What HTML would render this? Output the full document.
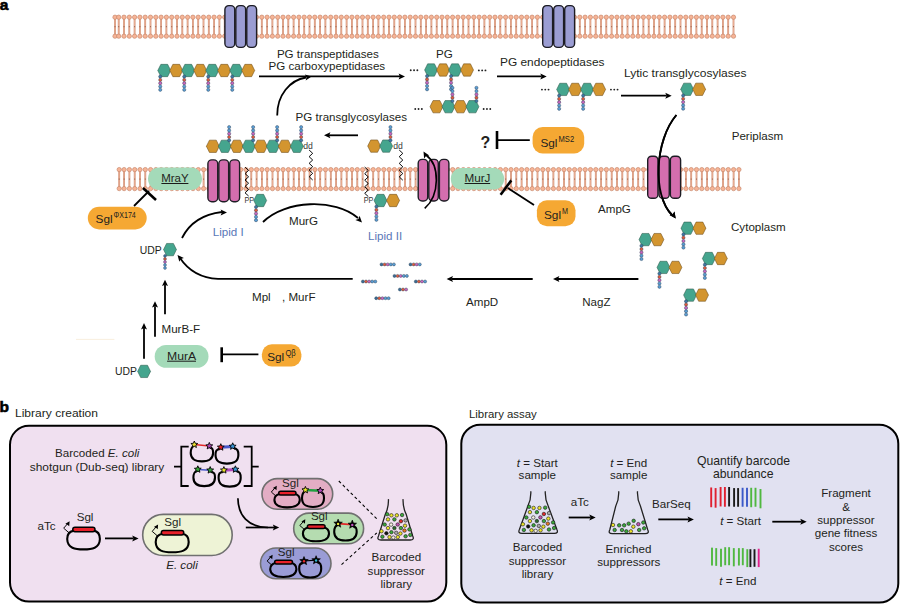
<!DOCTYPE html>
<html><head><meta charset="utf-8"><style>
html,body{margin:0;padding:0;background:#fff;overflow:hidden;}
svg{display:block;font-family:"Liberation Sans",sans-serif;}
</style></head><body>
<svg width="900" height="611" viewBox="0 0 900 611">
<text x="-0.2" y="9.7" font-size="15.50" text-anchor="start" fill="#000" font-weight="bold" stroke="#000" stroke-width="0.6">a</text>
<path d="M115.00 17.20V36.20M118.70 17.20V36.20M124.00 17.20V36.20M129.30 17.20V36.20M134.60 17.20V36.20M139.90 17.20V36.20M145.20 17.20V36.20M150.50 17.20V36.20M155.80 17.20V36.20M161.10 17.20V36.20M166.40 17.20V36.20M171.70 17.20V36.20M177.00 17.20V36.20M182.30 17.20V36.20M187.60 17.20V36.20M192.90 17.20V36.20M198.20 17.20V36.20M203.50 17.20V36.20M208.80 17.20V36.20M214.10 17.20V36.20M219.40 17.20V36.20M224.70 17.20V36.20M230.00 17.20V36.20M235.30 17.20V36.20M240.60 17.20V36.20M245.90 17.20V36.20M251.20 17.20V36.20M256.50 17.20V36.20M261.80 17.20V36.20M267.10 17.20V36.20M272.40 17.20V36.20M277.70 17.20V36.20M283.00 17.20V36.20M288.30 17.20V36.20M293.60 17.20V36.20M298.90 17.20V36.20M304.20 17.20V36.20M309.50 17.20V36.20M314.80 17.20V36.20M320.10 17.20V36.20M325.40 17.20V36.20M330.70 17.20V36.20M336.00 17.20V36.20M341.30 17.20V36.20M346.60 17.20V36.20M351.90 17.20V36.20M357.20 17.20V36.20M362.50 17.20V36.20M367.80 17.20V36.20M373.10 17.20V36.20M378.40 17.20V36.20M383.70 17.20V36.20M389.00 17.20V36.20M394.30 17.20V36.20M399.60 17.20V36.20M404.90 17.20V36.20M410.20 17.20V36.20M415.50 17.20V36.20M420.80 17.20V36.20M426.10 17.20V36.20M431.40 17.20V36.20M436.70 17.20V36.20M442.00 17.20V36.20M447.30 17.20V36.20M452.60 17.20V36.20M457.90 17.20V36.20M463.20 17.20V36.20M468.50 17.20V36.20M473.80 17.20V36.20M479.10 17.20V36.20M484.40 17.20V36.20M489.70 17.20V36.20M495.00 17.20V36.20M500.30 17.20V36.20M505.60 17.20V36.20M510.90 17.20V36.20M516.20 17.20V36.20M521.50 17.20V36.20M526.80 17.20V36.20M532.10 17.20V36.20M537.40 17.20V36.20M542.70 17.20V36.20M548.00 17.20V36.20M553.30 17.20V36.20M558.60 17.20V36.20M563.90 17.20V36.20M569.20 17.20V36.20M574.50 17.20V36.20M579.80 17.20V36.20M585.10 17.20V36.20M590.40 17.20V36.20M595.70 17.20V36.20M601.00 17.20V36.20M606.30 17.20V36.20M611.60 17.20V36.20M616.90 17.20V36.20M622.20 17.20V36.20M627.50 17.20V36.20M632.80 17.20V36.20M638.10 17.20V36.20M643.40 17.20V36.20M648.70 17.20V36.20M654.00 17.20V36.20M659.30 17.20V36.20M664.60 17.20V36.20M669.90 17.20V36.20M675.20 17.20V36.20M680.50 17.20V36.20M685.80 17.20V36.20M691.10 17.20V36.20M696.40 17.20V36.20M701.70 17.20V36.20M707.00 17.20V36.20M712.30 17.20V36.20M717.60 17.20V36.20M722.90 17.20V36.20M728.20 17.20V36.20M733.50 17.20V36.20" stroke="#d09076" stroke-width="1.8" fill="none"/>
<path d="M115.00 17.20V36.20M118.70 17.20V36.20M124.00 17.20V36.20M129.30 17.20V36.20M134.60 17.20V36.20M139.90 17.20V36.20M145.20 17.20V36.20M150.50 17.20V36.20M155.80 17.20V36.20M161.10 17.20V36.20M166.40 17.20V36.20M171.70 17.20V36.20M177.00 17.20V36.20M182.30 17.20V36.20M187.60 17.20V36.20M192.90 17.20V36.20M198.20 17.20V36.20M203.50 17.20V36.20M208.80 17.20V36.20M214.10 17.20V36.20M219.40 17.20V36.20M224.70 17.20V36.20M230.00 17.20V36.20M235.30 17.20V36.20M240.60 17.20V36.20M245.90 17.20V36.20M251.20 17.20V36.20M256.50 17.20V36.20M261.80 17.20V36.20M267.10 17.20V36.20M272.40 17.20V36.20M277.70 17.20V36.20M283.00 17.20V36.20M288.30 17.20V36.20M293.60 17.20V36.20M298.90 17.20V36.20M304.20 17.20V36.20M309.50 17.20V36.20M314.80 17.20V36.20M320.10 17.20V36.20M325.40 17.20V36.20M330.70 17.20V36.20M336.00 17.20V36.20M341.30 17.20V36.20M346.60 17.20V36.20M351.90 17.20V36.20M357.20 17.20V36.20M362.50 17.20V36.20M367.80 17.20V36.20M373.10 17.20V36.20M378.40 17.20V36.20M383.70 17.20V36.20M389.00 17.20V36.20M394.30 17.20V36.20M399.60 17.20V36.20M404.90 17.20V36.20M410.20 17.20V36.20M415.50 17.20V36.20M420.80 17.20V36.20M426.10 17.20V36.20M431.40 17.20V36.20M436.70 17.20V36.20M442.00 17.20V36.20M447.30 17.20V36.20M452.60 17.20V36.20M457.90 17.20V36.20M463.20 17.20V36.20M468.50 17.20V36.20M473.80 17.20V36.20M479.10 17.20V36.20M484.40 17.20V36.20M489.70 17.20V36.20M495.00 17.20V36.20M500.30 17.20V36.20M505.60 17.20V36.20M510.90 17.20V36.20M516.20 17.20V36.20M521.50 17.20V36.20M526.80 17.20V36.20M532.10 17.20V36.20M537.40 17.20V36.20M542.70 17.20V36.20M548.00 17.20V36.20M553.30 17.20V36.20M558.60 17.20V36.20M563.90 17.20V36.20M569.20 17.20V36.20M574.50 17.20V36.20M579.80 17.20V36.20M585.10 17.20V36.20M590.40 17.20V36.20M595.70 17.20V36.20M601.00 17.20V36.20M606.30 17.20V36.20M611.60 17.20V36.20M616.90 17.20V36.20M622.20 17.20V36.20M627.50 17.20V36.20M632.80 17.20V36.20M638.10 17.20V36.20M643.40 17.20V36.20M648.70 17.20V36.20M654.00 17.20V36.20M659.30 17.20V36.20M664.60 17.20V36.20M669.90 17.20V36.20M675.20 17.20V36.20M680.50 17.20V36.20M685.80 17.20V36.20M691.10 17.20V36.20M696.40 17.20V36.20M701.70 17.20V36.20M707.00 17.20V36.20M712.30 17.20V36.20M717.60 17.20V36.20M722.90 17.20V36.20M728.20 17.20V36.20M733.50 17.20V36.20" stroke="#eeb298" stroke-width="0.8" fill="none"/>
<path d="M115.00 26.20v1M118.70 26.20v1M124.00 26.20v1M129.30 26.20v1M134.60 26.20v1M139.90 26.20v1M145.20 26.20v1M150.50 26.20v1M155.80 26.20v1M161.10 26.20v1M166.40 26.20v1M171.70 26.20v1M177.00 26.20v1M182.30 26.20v1M187.60 26.20v1M192.90 26.20v1M198.20 26.20v1M203.50 26.20v1M208.80 26.20v1M214.10 26.20v1M219.40 26.20v1M224.70 26.20v1M230.00 26.20v1M235.30 26.20v1M240.60 26.20v1M245.90 26.20v1M251.20 26.20v1M256.50 26.20v1M261.80 26.20v1M267.10 26.20v1M272.40 26.20v1M277.70 26.20v1M283.00 26.20v1M288.30 26.20v1M293.60 26.20v1M298.90 26.20v1M304.20 26.20v1M309.50 26.20v1M314.80 26.20v1M320.10 26.20v1M325.40 26.20v1M330.70 26.20v1M336.00 26.20v1M341.30 26.20v1M346.60 26.20v1M351.90 26.20v1M357.20 26.20v1M362.50 26.20v1M367.80 26.20v1M373.10 26.20v1M378.40 26.20v1M383.70 26.20v1M389.00 26.20v1M394.30 26.20v1M399.60 26.20v1M404.90 26.20v1M410.20 26.20v1M415.50 26.20v1M420.80 26.20v1M426.10 26.20v1M431.40 26.20v1M436.70 26.20v1M442.00 26.20v1M447.30 26.20v1M452.60 26.20v1M457.90 26.20v1M463.20 26.20v1M468.50 26.20v1M473.80 26.20v1M479.10 26.20v1M484.40 26.20v1M489.70 26.20v1M495.00 26.20v1M500.30 26.20v1M505.60 26.20v1M510.90 26.20v1M516.20 26.20v1M521.50 26.20v1M526.80 26.20v1M532.10 26.20v1M537.40 26.20v1M542.70 26.20v1M548.00 26.20v1M553.30 26.20v1M558.60 26.20v1M563.90 26.20v1M569.20 26.20v1M574.50 26.20v1M579.80 26.20v1M585.10 26.20v1M590.40 26.20v1M595.70 26.20v1M601.00 26.20v1M606.30 26.20v1M611.60 26.20v1M616.90 26.20v1M622.20 26.20v1M627.50 26.20v1M632.80 26.20v1M638.10 26.20v1M643.40 26.20v1M648.70 26.20v1M654.00 26.20v1M659.30 26.20v1M664.60 26.20v1M669.90 26.20v1M675.20 26.20v1M680.50 26.20v1M685.80 26.20v1M691.10 26.20v1M696.40 26.20v1M701.70 26.20v1M707.00 26.20v1M712.30 26.20v1M717.60 26.20v1M722.90 26.20v1M728.20 26.20v1M733.50 26.20v1" stroke="#7a4a3a" stroke-width="0.8" fill="none"/>
<g fill="#f7b496" stroke="#c98a6e" stroke-width="0.7"><circle cx="115.00" cy="17.20" r="2.15"/><circle cx="115.00" cy="36.20" r="2.15"/><circle cx="118.70" cy="17.20" r="2.15"/><circle cx="118.70" cy="36.20" r="2.15"/><circle cx="124.00" cy="17.20" r="2.15"/><circle cx="124.00" cy="36.20" r="2.15"/><circle cx="129.30" cy="17.20" r="2.15"/><circle cx="129.30" cy="36.20" r="2.15"/><circle cx="134.60" cy="17.20" r="2.15"/><circle cx="134.60" cy="36.20" r="2.15"/><circle cx="139.90" cy="17.20" r="2.15"/><circle cx="139.90" cy="36.20" r="2.15"/><circle cx="145.20" cy="17.20" r="2.15"/><circle cx="145.20" cy="36.20" r="2.15"/><circle cx="150.50" cy="17.20" r="2.15"/><circle cx="150.50" cy="36.20" r="2.15"/><circle cx="155.80" cy="17.20" r="2.15"/><circle cx="155.80" cy="36.20" r="2.15"/><circle cx="161.10" cy="17.20" r="2.15"/><circle cx="161.10" cy="36.20" r="2.15"/><circle cx="166.40" cy="17.20" r="2.15"/><circle cx="166.40" cy="36.20" r="2.15"/><circle cx="171.70" cy="17.20" r="2.15"/><circle cx="171.70" cy="36.20" r="2.15"/><circle cx="177.00" cy="17.20" r="2.15"/><circle cx="177.00" cy="36.20" r="2.15"/><circle cx="182.30" cy="17.20" r="2.15"/><circle cx="182.30" cy="36.20" r="2.15"/><circle cx="187.60" cy="17.20" r="2.15"/><circle cx="187.60" cy="36.20" r="2.15"/><circle cx="192.90" cy="17.20" r="2.15"/><circle cx="192.90" cy="36.20" r="2.15"/><circle cx="198.20" cy="17.20" r="2.15"/><circle cx="198.20" cy="36.20" r="2.15"/><circle cx="203.50" cy="17.20" r="2.15"/><circle cx="203.50" cy="36.20" r="2.15"/><circle cx="208.80" cy="17.20" r="2.15"/><circle cx="208.80" cy="36.20" r="2.15"/><circle cx="214.10" cy="17.20" r="2.15"/><circle cx="214.10" cy="36.20" r="2.15"/><circle cx="219.40" cy="17.20" r="2.15"/><circle cx="219.40" cy="36.20" r="2.15"/><circle cx="224.70" cy="17.20" r="2.15"/><circle cx="224.70" cy="36.20" r="2.15"/><circle cx="230.00" cy="17.20" r="2.15"/><circle cx="230.00" cy="36.20" r="2.15"/><circle cx="235.30" cy="17.20" r="2.15"/><circle cx="235.30" cy="36.20" r="2.15"/><circle cx="240.60" cy="17.20" r="2.15"/><circle cx="240.60" cy="36.20" r="2.15"/><circle cx="245.90" cy="17.20" r="2.15"/><circle cx="245.90" cy="36.20" r="2.15"/><circle cx="251.20" cy="17.20" r="2.15"/><circle cx="251.20" cy="36.20" r="2.15"/><circle cx="256.50" cy="17.20" r="2.15"/><circle cx="256.50" cy="36.20" r="2.15"/><circle cx="261.80" cy="17.20" r="2.15"/><circle cx="261.80" cy="36.20" r="2.15"/><circle cx="267.10" cy="17.20" r="2.15"/><circle cx="267.10" cy="36.20" r="2.15"/><circle cx="272.40" cy="17.20" r="2.15"/><circle cx="272.40" cy="36.20" r="2.15"/><circle cx="277.70" cy="17.20" r="2.15"/><circle cx="277.70" cy="36.20" r="2.15"/><circle cx="283.00" cy="17.20" r="2.15"/><circle cx="283.00" cy="36.20" r="2.15"/><circle cx="288.30" cy="17.20" r="2.15"/><circle cx="288.30" cy="36.20" r="2.15"/><circle cx="293.60" cy="17.20" r="2.15"/><circle cx="293.60" cy="36.20" r="2.15"/><circle cx="298.90" cy="17.20" r="2.15"/><circle cx="298.90" cy="36.20" r="2.15"/><circle cx="304.20" cy="17.20" r="2.15"/><circle cx="304.20" cy="36.20" r="2.15"/><circle cx="309.50" cy="17.20" r="2.15"/><circle cx="309.50" cy="36.20" r="2.15"/><circle cx="314.80" cy="17.20" r="2.15"/><circle cx="314.80" cy="36.20" r="2.15"/><circle cx="320.10" cy="17.20" r="2.15"/><circle cx="320.10" cy="36.20" r="2.15"/><circle cx="325.40" cy="17.20" r="2.15"/><circle cx="325.40" cy="36.20" r="2.15"/><circle cx="330.70" cy="17.20" r="2.15"/><circle cx="330.70" cy="36.20" r="2.15"/><circle cx="336.00" cy="17.20" r="2.15"/><circle cx="336.00" cy="36.20" r="2.15"/><circle cx="341.30" cy="17.20" r="2.15"/><circle cx="341.30" cy="36.20" r="2.15"/><circle cx="346.60" cy="17.20" r="2.15"/><circle cx="346.60" cy="36.20" r="2.15"/><circle cx="351.90" cy="17.20" r="2.15"/><circle cx="351.90" cy="36.20" r="2.15"/><circle cx="357.20" cy="17.20" r="2.15"/><circle cx="357.20" cy="36.20" r="2.15"/><circle cx="362.50" cy="17.20" r="2.15"/><circle cx="362.50" cy="36.20" r="2.15"/><circle cx="367.80" cy="17.20" r="2.15"/><circle cx="367.80" cy="36.20" r="2.15"/><circle cx="373.10" cy="17.20" r="2.15"/><circle cx="373.10" cy="36.20" r="2.15"/><circle cx="378.40" cy="17.20" r="2.15"/><circle cx="378.40" cy="36.20" r="2.15"/><circle cx="383.70" cy="17.20" r="2.15"/><circle cx="383.70" cy="36.20" r="2.15"/><circle cx="389.00" cy="17.20" r="2.15"/><circle cx="389.00" cy="36.20" r="2.15"/><circle cx="394.30" cy="17.20" r="2.15"/><circle cx="394.30" cy="36.20" r="2.15"/><circle cx="399.60" cy="17.20" r="2.15"/><circle cx="399.60" cy="36.20" r="2.15"/><circle cx="404.90" cy="17.20" r="2.15"/><circle cx="404.90" cy="36.20" r="2.15"/><circle cx="410.20" cy="17.20" r="2.15"/><circle cx="410.20" cy="36.20" r="2.15"/><circle cx="415.50" cy="17.20" r="2.15"/><circle cx="415.50" cy="36.20" r="2.15"/><circle cx="420.80" cy="17.20" r="2.15"/><circle cx="420.80" cy="36.20" r="2.15"/><circle cx="426.10" cy="17.20" r="2.15"/><circle cx="426.10" cy="36.20" r="2.15"/><circle cx="431.40" cy="17.20" r="2.15"/><circle cx="431.40" cy="36.20" r="2.15"/><circle cx="436.70" cy="17.20" r="2.15"/><circle cx="436.70" cy="36.20" r="2.15"/><circle cx="442.00" cy="17.20" r="2.15"/><circle cx="442.00" cy="36.20" r="2.15"/><circle cx="447.30" cy="17.20" r="2.15"/><circle cx="447.30" cy="36.20" r="2.15"/><circle cx="452.60" cy="17.20" r="2.15"/><circle cx="452.60" cy="36.20" r="2.15"/><circle cx="457.90" cy="17.20" r="2.15"/><circle cx="457.90" cy="36.20" r="2.15"/><circle cx="463.20" cy="17.20" r="2.15"/><circle cx="463.20" cy="36.20" r="2.15"/><circle cx="468.50" cy="17.20" r="2.15"/><circle cx="468.50" cy="36.20" r="2.15"/><circle cx="473.80" cy="17.20" r="2.15"/><circle cx="473.80" cy="36.20" r="2.15"/><circle cx="479.10" cy="17.20" r="2.15"/><circle cx="479.10" cy="36.20" r="2.15"/><circle cx="484.40" cy="17.20" r="2.15"/><circle cx="484.40" cy="36.20" r="2.15"/><circle cx="489.70" cy="17.20" r="2.15"/><circle cx="489.70" cy="36.20" r="2.15"/><circle cx="495.00" cy="17.20" r="2.15"/><circle cx="495.00" cy="36.20" r="2.15"/><circle cx="500.30" cy="17.20" r="2.15"/><circle cx="500.30" cy="36.20" r="2.15"/><circle cx="505.60" cy="17.20" r="2.15"/><circle cx="505.60" cy="36.20" r="2.15"/><circle cx="510.90" cy="17.20" r="2.15"/><circle cx="510.90" cy="36.20" r="2.15"/><circle cx="516.20" cy="17.20" r="2.15"/><circle cx="516.20" cy="36.20" r="2.15"/><circle cx="521.50" cy="17.20" r="2.15"/><circle cx="521.50" cy="36.20" r="2.15"/><circle cx="526.80" cy="17.20" r="2.15"/><circle cx="526.80" cy="36.20" r="2.15"/><circle cx="532.10" cy="17.20" r="2.15"/><circle cx="532.10" cy="36.20" r="2.15"/><circle cx="537.40" cy="17.20" r="2.15"/><circle cx="537.40" cy="36.20" r="2.15"/><circle cx="542.70" cy="17.20" r="2.15"/><circle cx="542.70" cy="36.20" r="2.15"/><circle cx="548.00" cy="17.20" r="2.15"/><circle cx="548.00" cy="36.20" r="2.15"/><circle cx="553.30" cy="17.20" r="2.15"/><circle cx="553.30" cy="36.20" r="2.15"/><circle cx="558.60" cy="17.20" r="2.15"/><circle cx="558.60" cy="36.20" r="2.15"/><circle cx="563.90" cy="17.20" r="2.15"/><circle cx="563.90" cy="36.20" r="2.15"/><circle cx="569.20" cy="17.20" r="2.15"/><circle cx="569.20" cy="36.20" r="2.15"/><circle cx="574.50" cy="17.20" r="2.15"/><circle cx="574.50" cy="36.20" r="2.15"/><circle cx="579.80" cy="17.20" r="2.15"/><circle cx="579.80" cy="36.20" r="2.15"/><circle cx="585.10" cy="17.20" r="2.15"/><circle cx="585.10" cy="36.20" r="2.15"/><circle cx="590.40" cy="17.20" r="2.15"/><circle cx="590.40" cy="36.20" r="2.15"/><circle cx="595.70" cy="17.20" r="2.15"/><circle cx="595.70" cy="36.20" r="2.15"/><circle cx="601.00" cy="17.20" r="2.15"/><circle cx="601.00" cy="36.20" r="2.15"/><circle cx="606.30" cy="17.20" r="2.15"/><circle cx="606.30" cy="36.20" r="2.15"/><circle cx="611.60" cy="17.20" r="2.15"/><circle cx="611.60" cy="36.20" r="2.15"/><circle cx="616.90" cy="17.20" r="2.15"/><circle cx="616.90" cy="36.20" r="2.15"/><circle cx="622.20" cy="17.20" r="2.15"/><circle cx="622.20" cy="36.20" r="2.15"/><circle cx="627.50" cy="17.20" r="2.15"/><circle cx="627.50" cy="36.20" r="2.15"/><circle cx="632.80" cy="17.20" r="2.15"/><circle cx="632.80" cy="36.20" r="2.15"/><circle cx="638.10" cy="17.20" r="2.15"/><circle cx="638.10" cy="36.20" r="2.15"/><circle cx="643.40" cy="17.20" r="2.15"/><circle cx="643.40" cy="36.20" r="2.15"/><circle cx="648.70" cy="17.20" r="2.15"/><circle cx="648.70" cy="36.20" r="2.15"/><circle cx="654.00" cy="17.20" r="2.15"/><circle cx="654.00" cy="36.20" r="2.15"/><circle cx="659.30" cy="17.20" r="2.15"/><circle cx="659.30" cy="36.20" r="2.15"/><circle cx="664.60" cy="17.20" r="2.15"/><circle cx="664.60" cy="36.20" r="2.15"/><circle cx="669.90" cy="17.20" r="2.15"/><circle cx="669.90" cy="36.20" r="2.15"/><circle cx="675.20" cy="17.20" r="2.15"/><circle cx="675.20" cy="36.20" r="2.15"/><circle cx="680.50" cy="17.20" r="2.15"/><circle cx="680.50" cy="36.20" r="2.15"/><circle cx="685.80" cy="17.20" r="2.15"/><circle cx="685.80" cy="36.20" r="2.15"/><circle cx="691.10" cy="17.20" r="2.15"/><circle cx="691.10" cy="36.20" r="2.15"/><circle cx="696.40" cy="17.20" r="2.15"/><circle cx="696.40" cy="36.20" r="2.15"/><circle cx="701.70" cy="17.20" r="2.15"/><circle cx="701.70" cy="36.20" r="2.15"/><circle cx="707.00" cy="17.20" r="2.15"/><circle cx="707.00" cy="36.20" r="2.15"/><circle cx="712.30" cy="17.20" r="2.15"/><circle cx="712.30" cy="36.20" r="2.15"/><circle cx="717.60" cy="17.20" r="2.15"/><circle cx="717.60" cy="36.20" r="2.15"/><circle cx="722.90" cy="17.20" r="2.15"/><circle cx="722.90" cy="36.20" r="2.15"/><circle cx="728.20" cy="17.20" r="2.15"/><circle cx="728.20" cy="36.20" r="2.15"/><circle cx="733.50" cy="17.20" r="2.15"/><circle cx="733.50" cy="36.20" r="2.15"/></g>
<path d="M119.20 169.60V188.60M124.10 169.60V188.60M129.40 169.60V188.60M134.70 169.60V188.60M140.00 169.60V188.60M145.30 169.60V188.60M150.60 169.60V188.60M155.90 169.60V188.60M161.20 169.60V188.60M166.50 169.60V188.60M171.80 169.60V188.60M177.10 169.60V188.60M182.40 169.60V188.60M187.70 169.60V188.60M193.00 169.60V188.60M198.30 169.60V188.60M203.60 169.60V188.60M208.90 169.60V188.60M214.20 169.60V188.60M219.50 169.60V188.60M224.80 169.60V188.60M230.10 169.60V188.60M235.40 169.60V188.60M240.70 169.60V188.60M246.00 169.60V188.60M251.30 169.60V188.60M256.60 169.60V188.60M261.90 169.60V188.60M267.20 169.60V188.60M272.50 169.60V188.60M277.80 169.60V188.60M283.10 169.60V188.60M288.40 169.60V188.60M293.70 169.60V188.60M299.00 169.60V188.60M304.30 169.60V188.60M309.60 169.60V188.60M314.90 169.60V188.60M320.20 169.60V188.60M325.50 169.60V188.60M330.80 169.60V188.60M336.10 169.60V188.60M341.40 169.60V188.60M346.70 169.60V188.60M352.00 169.60V188.60M357.30 169.60V188.60M362.60 169.60V188.60M367.90 169.60V188.60M373.20 169.60V188.60M378.50 169.60V188.60M383.80 169.60V188.60M389.10 169.60V188.60M394.40 169.60V188.60M399.70 169.60V188.60M405.00 169.60V188.60M410.30 169.60V188.60M415.60 169.60V188.60M420.90 169.60V188.60M426.20 169.60V188.60M431.50 169.60V188.60M436.80 169.60V188.60M442.10 169.60V188.60M447.40 169.60V188.60M452.70 169.60V188.60M458.00 169.60V188.60M463.30 169.60V188.60M468.60 169.60V188.60M473.90 169.60V188.60M479.20 169.60V188.60M484.50 169.60V188.60M489.80 169.60V188.60M495.10 169.60V188.60M500.40 169.60V188.60M505.70 169.60V188.60M511.00 169.60V188.60M516.30 169.60V188.60M521.60 169.60V188.60M526.90 169.60V188.60M532.20 169.60V188.60M537.50 169.60V188.60M542.80 169.60V188.60M548.10 169.60V188.60M553.40 169.60V188.60M558.70 169.60V188.60M564.00 169.60V188.60M569.30 169.60V188.60M574.60 169.60V188.60M579.90 169.60V188.60M585.20 169.60V188.60M590.50 169.60V188.60M595.80 169.60V188.60M601.10 169.60V188.60M606.40 169.60V188.60M611.70 169.60V188.60M617.00 169.60V188.60M622.30 169.60V188.60M627.60 169.60V188.60M632.90 169.60V188.60M638.20 169.60V188.60M643.50 169.60V188.60M648.80 169.60V188.60M654.10 169.60V188.60M659.40 169.60V188.60M664.70 169.60V188.60M670.00 169.60V188.60M675.30 169.60V188.60M680.60 169.60V188.60M685.90 169.60V188.60M691.20 169.60V188.60M696.50 169.60V188.60M701.80 169.60V188.60M707.10 169.60V188.60M712.40 169.60V188.60M717.70 169.60V188.60M723.00 169.60V188.60M728.30 169.60V188.60M733.60 169.60V188.60M738.90 169.60V188.60" stroke="#d09076" stroke-width="1.8" fill="none"/>
<path d="M119.20 169.60V188.60M124.10 169.60V188.60M129.40 169.60V188.60M134.70 169.60V188.60M140.00 169.60V188.60M145.30 169.60V188.60M150.60 169.60V188.60M155.90 169.60V188.60M161.20 169.60V188.60M166.50 169.60V188.60M171.80 169.60V188.60M177.10 169.60V188.60M182.40 169.60V188.60M187.70 169.60V188.60M193.00 169.60V188.60M198.30 169.60V188.60M203.60 169.60V188.60M208.90 169.60V188.60M214.20 169.60V188.60M219.50 169.60V188.60M224.80 169.60V188.60M230.10 169.60V188.60M235.40 169.60V188.60M240.70 169.60V188.60M246.00 169.60V188.60M251.30 169.60V188.60M256.60 169.60V188.60M261.90 169.60V188.60M267.20 169.60V188.60M272.50 169.60V188.60M277.80 169.60V188.60M283.10 169.60V188.60M288.40 169.60V188.60M293.70 169.60V188.60M299.00 169.60V188.60M304.30 169.60V188.60M309.60 169.60V188.60M314.90 169.60V188.60M320.20 169.60V188.60M325.50 169.60V188.60M330.80 169.60V188.60M336.10 169.60V188.60M341.40 169.60V188.60M346.70 169.60V188.60M352.00 169.60V188.60M357.30 169.60V188.60M362.60 169.60V188.60M367.90 169.60V188.60M373.20 169.60V188.60M378.50 169.60V188.60M383.80 169.60V188.60M389.10 169.60V188.60M394.40 169.60V188.60M399.70 169.60V188.60M405.00 169.60V188.60M410.30 169.60V188.60M415.60 169.60V188.60M420.90 169.60V188.60M426.20 169.60V188.60M431.50 169.60V188.60M436.80 169.60V188.60M442.10 169.60V188.60M447.40 169.60V188.60M452.70 169.60V188.60M458.00 169.60V188.60M463.30 169.60V188.60M468.60 169.60V188.60M473.90 169.60V188.60M479.20 169.60V188.60M484.50 169.60V188.60M489.80 169.60V188.60M495.10 169.60V188.60M500.40 169.60V188.60M505.70 169.60V188.60M511.00 169.60V188.60M516.30 169.60V188.60M521.60 169.60V188.60M526.90 169.60V188.60M532.20 169.60V188.60M537.50 169.60V188.60M542.80 169.60V188.60M548.10 169.60V188.60M553.40 169.60V188.60M558.70 169.60V188.60M564.00 169.60V188.60M569.30 169.60V188.60M574.60 169.60V188.60M579.90 169.60V188.60M585.20 169.60V188.60M590.50 169.60V188.60M595.80 169.60V188.60M601.10 169.60V188.60M606.40 169.60V188.60M611.70 169.60V188.60M617.00 169.60V188.60M622.30 169.60V188.60M627.60 169.60V188.60M632.90 169.60V188.60M638.20 169.60V188.60M643.50 169.60V188.60M648.80 169.60V188.60M654.10 169.60V188.60M659.40 169.60V188.60M664.70 169.60V188.60M670.00 169.60V188.60M675.30 169.60V188.60M680.60 169.60V188.60M685.90 169.60V188.60M691.20 169.60V188.60M696.50 169.60V188.60M701.80 169.60V188.60M707.10 169.60V188.60M712.40 169.60V188.60M717.70 169.60V188.60M723.00 169.60V188.60M728.30 169.60V188.60M733.60 169.60V188.60M738.90 169.60V188.60" stroke="#eeb298" stroke-width="0.8" fill="none"/>
<path d="M119.20 178.60v1M124.10 178.60v1M129.40 178.60v1M134.70 178.60v1M140.00 178.60v1M145.30 178.60v1M150.60 178.60v1M155.90 178.60v1M161.20 178.60v1M166.50 178.60v1M171.80 178.60v1M177.10 178.60v1M182.40 178.60v1M187.70 178.60v1M193.00 178.60v1M198.30 178.60v1M203.60 178.60v1M208.90 178.60v1M214.20 178.60v1M219.50 178.60v1M224.80 178.60v1M230.10 178.60v1M235.40 178.60v1M240.70 178.60v1M246.00 178.60v1M251.30 178.60v1M256.60 178.60v1M261.90 178.60v1M267.20 178.60v1M272.50 178.60v1M277.80 178.60v1M283.10 178.60v1M288.40 178.60v1M293.70 178.60v1M299.00 178.60v1M304.30 178.60v1M309.60 178.60v1M314.90 178.60v1M320.20 178.60v1M325.50 178.60v1M330.80 178.60v1M336.10 178.60v1M341.40 178.60v1M346.70 178.60v1M352.00 178.60v1M357.30 178.60v1M362.60 178.60v1M367.90 178.60v1M373.20 178.60v1M378.50 178.60v1M383.80 178.60v1M389.10 178.60v1M394.40 178.60v1M399.70 178.60v1M405.00 178.60v1M410.30 178.60v1M415.60 178.60v1M420.90 178.60v1M426.20 178.60v1M431.50 178.60v1M436.80 178.60v1M442.10 178.60v1M447.40 178.60v1M452.70 178.60v1M458.00 178.60v1M463.30 178.60v1M468.60 178.60v1M473.90 178.60v1M479.20 178.60v1M484.50 178.60v1M489.80 178.60v1M495.10 178.60v1M500.40 178.60v1M505.70 178.60v1M511.00 178.60v1M516.30 178.60v1M521.60 178.60v1M526.90 178.60v1M532.20 178.60v1M537.50 178.60v1M542.80 178.60v1M548.10 178.60v1M553.40 178.60v1M558.70 178.60v1M564.00 178.60v1M569.30 178.60v1M574.60 178.60v1M579.90 178.60v1M585.20 178.60v1M590.50 178.60v1M595.80 178.60v1M601.10 178.60v1M606.40 178.60v1M611.70 178.60v1M617.00 178.60v1M622.30 178.60v1M627.60 178.60v1M632.90 178.60v1M638.20 178.60v1M643.50 178.60v1M648.80 178.60v1M654.10 178.60v1M659.40 178.60v1M664.70 178.60v1M670.00 178.60v1M675.30 178.60v1M680.60 178.60v1M685.90 178.60v1M691.20 178.60v1M696.50 178.60v1M701.80 178.60v1M707.10 178.60v1M712.40 178.60v1M717.70 178.60v1M723.00 178.60v1M728.30 178.60v1M733.60 178.60v1M738.90 178.60v1" stroke="#7a4a3a" stroke-width="0.8" fill="none"/>
<g fill="#f7b496" stroke="#c98a6e" stroke-width="0.7"><circle cx="119.20" cy="169.60" r="2.15"/><circle cx="119.20" cy="188.60" r="2.15"/><circle cx="124.10" cy="169.60" r="2.15"/><circle cx="124.10" cy="188.60" r="2.15"/><circle cx="129.40" cy="169.60" r="2.15"/><circle cx="129.40" cy="188.60" r="2.15"/><circle cx="134.70" cy="169.60" r="2.15"/><circle cx="134.70" cy="188.60" r="2.15"/><circle cx="140.00" cy="169.60" r="2.15"/><circle cx="140.00" cy="188.60" r="2.15"/><circle cx="145.30" cy="169.60" r="2.15"/><circle cx="145.30" cy="188.60" r="2.15"/><circle cx="150.60" cy="169.60" r="2.15"/><circle cx="150.60" cy="188.60" r="2.15"/><circle cx="155.90" cy="169.60" r="2.15"/><circle cx="155.90" cy="188.60" r="2.15"/><circle cx="161.20" cy="169.60" r="2.15"/><circle cx="161.20" cy="188.60" r="2.15"/><circle cx="166.50" cy="169.60" r="2.15"/><circle cx="166.50" cy="188.60" r="2.15"/><circle cx="171.80" cy="169.60" r="2.15"/><circle cx="171.80" cy="188.60" r="2.15"/><circle cx="177.10" cy="169.60" r="2.15"/><circle cx="177.10" cy="188.60" r="2.15"/><circle cx="182.40" cy="169.60" r="2.15"/><circle cx="182.40" cy="188.60" r="2.15"/><circle cx="187.70" cy="169.60" r="2.15"/><circle cx="187.70" cy="188.60" r="2.15"/><circle cx="193.00" cy="169.60" r="2.15"/><circle cx="193.00" cy="188.60" r="2.15"/><circle cx="198.30" cy="169.60" r="2.15"/><circle cx="198.30" cy="188.60" r="2.15"/><circle cx="203.60" cy="169.60" r="2.15"/><circle cx="203.60" cy="188.60" r="2.15"/><circle cx="208.90" cy="169.60" r="2.15"/><circle cx="208.90" cy="188.60" r="2.15"/><circle cx="214.20" cy="169.60" r="2.15"/><circle cx="214.20" cy="188.60" r="2.15"/><circle cx="219.50" cy="169.60" r="2.15"/><circle cx="219.50" cy="188.60" r="2.15"/><circle cx="224.80" cy="169.60" r="2.15"/><circle cx="224.80" cy="188.60" r="2.15"/><circle cx="230.10" cy="169.60" r="2.15"/><circle cx="230.10" cy="188.60" r="2.15"/><circle cx="235.40" cy="169.60" r="2.15"/><circle cx="235.40" cy="188.60" r="2.15"/><circle cx="240.70" cy="169.60" r="2.15"/><circle cx="240.70" cy="188.60" r="2.15"/><circle cx="246.00" cy="169.60" r="2.15"/><circle cx="246.00" cy="188.60" r="2.15"/><circle cx="251.30" cy="169.60" r="2.15"/><circle cx="251.30" cy="188.60" r="2.15"/><circle cx="256.60" cy="169.60" r="2.15"/><circle cx="256.60" cy="188.60" r="2.15"/><circle cx="261.90" cy="169.60" r="2.15"/><circle cx="261.90" cy="188.60" r="2.15"/><circle cx="267.20" cy="169.60" r="2.15"/><circle cx="267.20" cy="188.60" r="2.15"/><circle cx="272.50" cy="169.60" r="2.15"/><circle cx="272.50" cy="188.60" r="2.15"/><circle cx="277.80" cy="169.60" r="2.15"/><circle cx="277.80" cy="188.60" r="2.15"/><circle cx="283.10" cy="169.60" r="2.15"/><circle cx="283.10" cy="188.60" r="2.15"/><circle cx="288.40" cy="169.60" r="2.15"/><circle cx="288.40" cy="188.60" r="2.15"/><circle cx="293.70" cy="169.60" r="2.15"/><circle cx="293.70" cy="188.60" r="2.15"/><circle cx="299.00" cy="169.60" r="2.15"/><circle cx="299.00" cy="188.60" r="2.15"/><circle cx="304.30" cy="169.60" r="2.15"/><circle cx="304.30" cy="188.60" r="2.15"/><circle cx="309.60" cy="169.60" r="2.15"/><circle cx="309.60" cy="188.60" r="2.15"/><circle cx="314.90" cy="169.60" r="2.15"/><circle cx="314.90" cy="188.60" r="2.15"/><circle cx="320.20" cy="169.60" r="2.15"/><circle cx="320.20" cy="188.60" r="2.15"/><circle cx="325.50" cy="169.60" r="2.15"/><circle cx="325.50" cy="188.60" r="2.15"/><circle cx="330.80" cy="169.60" r="2.15"/><circle cx="330.80" cy="188.60" r="2.15"/><circle cx="336.10" cy="169.60" r="2.15"/><circle cx="336.10" cy="188.60" r="2.15"/><circle cx="341.40" cy="169.60" r="2.15"/><circle cx="341.40" cy="188.60" r="2.15"/><circle cx="346.70" cy="169.60" r="2.15"/><circle cx="346.70" cy="188.60" r="2.15"/><circle cx="352.00" cy="169.60" r="2.15"/><circle cx="352.00" cy="188.60" r="2.15"/><circle cx="357.30" cy="169.60" r="2.15"/><circle cx="357.30" cy="188.60" r="2.15"/><circle cx="362.60" cy="169.60" r="2.15"/><circle cx="362.60" cy="188.60" r="2.15"/><circle cx="367.90" cy="169.60" r="2.15"/><circle cx="367.90" cy="188.60" r="2.15"/><circle cx="373.20" cy="169.60" r="2.15"/><circle cx="373.20" cy="188.60" r="2.15"/><circle cx="378.50" cy="169.60" r="2.15"/><circle cx="378.50" cy="188.60" r="2.15"/><circle cx="383.80" cy="169.60" r="2.15"/><circle cx="383.80" cy="188.60" r="2.15"/><circle cx="389.10" cy="169.60" r="2.15"/><circle cx="389.10" cy="188.60" r="2.15"/><circle cx="394.40" cy="169.60" r="2.15"/><circle cx="394.40" cy="188.60" r="2.15"/><circle cx="399.70" cy="169.60" r="2.15"/><circle cx="399.70" cy="188.60" r="2.15"/><circle cx="405.00" cy="169.60" r="2.15"/><circle cx="405.00" cy="188.60" r="2.15"/><circle cx="410.30" cy="169.60" r="2.15"/><circle cx="410.30" cy="188.60" r="2.15"/><circle cx="415.60" cy="169.60" r="2.15"/><circle cx="415.60" cy="188.60" r="2.15"/><circle cx="420.90" cy="169.60" r="2.15"/><circle cx="420.90" cy="188.60" r="2.15"/><circle cx="426.20" cy="169.60" r="2.15"/><circle cx="426.20" cy="188.60" r="2.15"/><circle cx="431.50" cy="169.60" r="2.15"/><circle cx="431.50" cy="188.60" r="2.15"/><circle cx="436.80" cy="169.60" r="2.15"/><circle cx="436.80" cy="188.60" r="2.15"/><circle cx="442.10" cy="169.60" r="2.15"/><circle cx="442.10" cy="188.60" r="2.15"/><circle cx="447.40" cy="169.60" r="2.15"/><circle cx="447.40" cy="188.60" r="2.15"/><circle cx="452.70" cy="169.60" r="2.15"/><circle cx="452.70" cy="188.60" r="2.15"/><circle cx="458.00" cy="169.60" r="2.15"/><circle cx="458.00" cy="188.60" r="2.15"/><circle cx="463.30" cy="169.60" r="2.15"/><circle cx="463.30" cy="188.60" r="2.15"/><circle cx="468.60" cy="169.60" r="2.15"/><circle cx="468.60" cy="188.60" r="2.15"/><circle cx="473.90" cy="169.60" r="2.15"/><circle cx="473.90" cy="188.60" r="2.15"/><circle cx="479.20" cy="169.60" r="2.15"/><circle cx="479.20" cy="188.60" r="2.15"/><circle cx="484.50" cy="169.60" r="2.15"/><circle cx="484.50" cy="188.60" r="2.15"/><circle cx="489.80" cy="169.60" r="2.15"/><circle cx="489.80" cy="188.60" r="2.15"/><circle cx="495.10" cy="169.60" r="2.15"/><circle cx="495.10" cy="188.60" r="2.15"/><circle cx="500.40" cy="169.60" r="2.15"/><circle cx="500.40" cy="188.60" r="2.15"/><circle cx="505.70" cy="169.60" r="2.15"/><circle cx="505.70" cy="188.60" r="2.15"/><circle cx="511.00" cy="169.60" r="2.15"/><circle cx="511.00" cy="188.60" r="2.15"/><circle cx="516.30" cy="169.60" r="2.15"/><circle cx="516.30" cy="188.60" r="2.15"/><circle cx="521.60" cy="169.60" r="2.15"/><circle cx="521.60" cy="188.60" r="2.15"/><circle cx="526.90" cy="169.60" r="2.15"/><circle cx="526.90" cy="188.60" r="2.15"/><circle cx="532.20" cy="169.60" r="2.15"/><circle cx="532.20" cy="188.60" r="2.15"/><circle cx="537.50" cy="169.60" r="2.15"/><circle cx="537.50" cy="188.60" r="2.15"/><circle cx="542.80" cy="169.60" r="2.15"/><circle cx="542.80" cy="188.60" r="2.15"/><circle cx="548.10" cy="169.60" r="2.15"/><circle cx="548.10" cy="188.60" r="2.15"/><circle cx="553.40" cy="169.60" r="2.15"/><circle cx="553.40" cy="188.60" r="2.15"/><circle cx="558.70" cy="169.60" r="2.15"/><circle cx="558.70" cy="188.60" r="2.15"/><circle cx="564.00" cy="169.60" r="2.15"/><circle cx="564.00" cy="188.60" r="2.15"/><circle cx="569.30" cy="169.60" r="2.15"/><circle cx="569.30" cy="188.60" r="2.15"/><circle cx="574.60" cy="169.60" r="2.15"/><circle cx="574.60" cy="188.60" r="2.15"/><circle cx="579.90" cy="169.60" r="2.15"/><circle cx="579.90" cy="188.60" r="2.15"/><circle cx="585.20" cy="169.60" r="2.15"/><circle cx="585.20" cy="188.60" r="2.15"/><circle cx="590.50" cy="169.60" r="2.15"/><circle cx="590.50" cy="188.60" r="2.15"/><circle cx="595.80" cy="169.60" r="2.15"/><circle cx="595.80" cy="188.60" r="2.15"/><circle cx="601.10" cy="169.60" r="2.15"/><circle cx="601.10" cy="188.60" r="2.15"/><circle cx="606.40" cy="169.60" r="2.15"/><circle cx="606.40" cy="188.60" r="2.15"/><circle cx="611.70" cy="169.60" r="2.15"/><circle cx="611.70" cy="188.60" r="2.15"/><circle cx="617.00" cy="169.60" r="2.15"/><circle cx="617.00" cy="188.60" r="2.15"/><circle cx="622.30" cy="169.60" r="2.15"/><circle cx="622.30" cy="188.60" r="2.15"/><circle cx="627.60" cy="169.60" r="2.15"/><circle cx="627.60" cy="188.60" r="2.15"/><circle cx="632.90" cy="169.60" r="2.15"/><circle cx="632.90" cy="188.60" r="2.15"/><circle cx="638.20" cy="169.60" r="2.15"/><circle cx="638.20" cy="188.60" r="2.15"/><circle cx="643.50" cy="169.60" r="2.15"/><circle cx="643.50" cy="188.60" r="2.15"/><circle cx="648.80" cy="169.60" r="2.15"/><circle cx="648.80" cy="188.60" r="2.15"/><circle cx="654.10" cy="169.60" r="2.15"/><circle cx="654.10" cy="188.60" r="2.15"/><circle cx="659.40" cy="169.60" r="2.15"/><circle cx="659.40" cy="188.60" r="2.15"/><circle cx="664.70" cy="169.60" r="2.15"/><circle cx="664.70" cy="188.60" r="2.15"/><circle cx="670.00" cy="169.60" r="2.15"/><circle cx="670.00" cy="188.60" r="2.15"/><circle cx="675.30" cy="169.60" r="2.15"/><circle cx="675.30" cy="188.60" r="2.15"/><circle cx="680.60" cy="169.60" r="2.15"/><circle cx="680.60" cy="188.60" r="2.15"/><circle cx="685.90" cy="169.60" r="2.15"/><circle cx="685.90" cy="188.60" r="2.15"/><circle cx="691.20" cy="169.60" r="2.15"/><circle cx="691.20" cy="188.60" r="2.15"/><circle cx="696.50" cy="169.60" r="2.15"/><circle cx="696.50" cy="188.60" r="2.15"/><circle cx="701.80" cy="169.60" r="2.15"/><circle cx="701.80" cy="188.60" r="2.15"/><circle cx="707.10" cy="169.60" r="2.15"/><circle cx="707.10" cy="188.60" r="2.15"/><circle cx="712.40" cy="169.60" r="2.15"/><circle cx="712.40" cy="188.60" r="2.15"/><circle cx="717.70" cy="169.60" r="2.15"/><circle cx="717.70" cy="188.60" r="2.15"/><circle cx="723.00" cy="169.60" r="2.15"/><circle cx="723.00" cy="188.60" r="2.15"/><circle cx="728.30" cy="169.60" r="2.15"/><circle cx="728.30" cy="188.60" r="2.15"/><circle cx="733.60" cy="169.60" r="2.15"/><circle cx="733.60" cy="188.60" r="2.15"/><circle cx="738.90" cy="169.60" r="2.15"/><circle cx="738.90" cy="188.60" r="2.15"/></g>
<rect x="224.90" y="5.60" width="9.83" height="41.80" rx="3.9" fill="#9b9dd3" stroke="#1d1d24" stroke-width="1.4"/>
<rect x="235.83" y="5.60" width="9.83" height="41.80" rx="3.9" fill="#9b9dd3" stroke="#1d1d24" stroke-width="1.4"/>
<rect x="246.77" y="5.60" width="9.83" height="41.80" rx="3.9" fill="#9b9dd3" stroke="#1d1d24" stroke-width="1.4"/>
<rect x="542.70" y="5.60" width="9.90" height="41.80" rx="3.9" fill="#9b9dd3" stroke="#1d1d24" stroke-width="1.4"/>
<rect x="553.70" y="5.60" width="9.90" height="41.80" rx="3.9" fill="#9b9dd3" stroke="#1d1d24" stroke-width="1.4"/>
<rect x="564.70" y="5.60" width="9.90" height="41.80" rx="3.9" fill="#9b9dd3" stroke="#1d1d24" stroke-width="1.4"/>
<polygon points="157.80,70.50 160.85,64.35 167.65,64.35 170.70,70.50 167.65,76.65 160.85,76.65" fill="#45a58e" stroke="#2e5a4c" stroke-width="0.55"/>
<polygon points="169.80,70.50 172.85,64.35 179.65,64.35 182.70,70.50 179.65,76.65 172.85,76.65" fill="#d3952f" stroke="#6a4a18" stroke-width="0.55"/>
<polygon points="181.80,70.50 184.85,64.35 191.65,64.35 194.70,70.50 191.65,76.65 184.85,76.65" fill="#45a58e" stroke="#2e5a4c" stroke-width="0.55"/>
<polygon points="193.80,70.50 196.85,64.35 203.65,64.35 206.70,70.50 203.65,76.65 196.85,76.65" fill="#d3952f" stroke="#6a4a18" stroke-width="0.55"/>
<polygon points="205.80,70.50 208.85,64.35 215.65,64.35 218.70,70.50 215.65,76.65 208.85,76.65" fill="#45a58e" stroke="#2e5a4c" stroke-width="0.55"/>
<polygon points="217.80,70.50 220.85,64.35 227.65,64.35 230.70,70.50 227.65,76.65 220.85,76.65" fill="#d3952f" stroke="#6a4a18" stroke-width="0.55"/>
<polygon points="229.80,70.50 232.85,64.35 239.65,64.35 242.70,70.50 239.65,76.65 232.85,76.65" fill="#45a58e" stroke="#2e5a4c" stroke-width="0.55"/>
<polygon points="241.80,70.50 244.85,64.35 251.65,64.35 254.70,70.50 251.65,76.65 244.85,76.65" fill="#d3952f" stroke="#6a4a18" stroke-width="0.55"/>
<circle cx="160.25" cy="76.60" r="1.58" fill="#3f7aa6" stroke="#2a3f55" stroke-width="0.45"/>
<circle cx="160.25" cy="79.90" r="1.58" fill="#e35a3a" stroke="#2a3f55" stroke-width="0.45"/>
<circle cx="160.25" cy="83.20" r="1.58" fill="#cc66c0" stroke="#2a3f55" stroke-width="0.45"/>
<circle cx="160.25" cy="86.50" r="1.58" fill="#5a9fd6" stroke="#2a3f55" stroke-width="0.45"/>
<circle cx="160.25" cy="89.80" r="1.58" fill="#5a9fd6" stroke="#2a3f55" stroke-width="0.45"/>
<circle cx="184.25" cy="76.60" r="1.58" fill="#3f7aa6" stroke="#2a3f55" stroke-width="0.45"/>
<circle cx="184.25" cy="79.90" r="1.58" fill="#e35a3a" stroke="#2a3f55" stroke-width="0.45"/>
<circle cx="184.25" cy="83.20" r="1.58" fill="#cc66c0" stroke="#2a3f55" stroke-width="0.45"/>
<circle cx="184.25" cy="86.50" r="1.58" fill="#5a9fd6" stroke="#2a3f55" stroke-width="0.45"/>
<circle cx="184.25" cy="89.80" r="1.58" fill="#5a9fd6" stroke="#2a3f55" stroke-width="0.45"/>
<circle cx="208.25" cy="76.60" r="1.58" fill="#3f7aa6" stroke="#2a3f55" stroke-width="0.45"/>
<circle cx="208.25" cy="79.90" r="1.58" fill="#e35a3a" stroke="#2a3f55" stroke-width="0.45"/>
<circle cx="208.25" cy="83.20" r="1.58" fill="#cc66c0" stroke="#2a3f55" stroke-width="0.45"/>
<circle cx="208.25" cy="86.50" r="1.58" fill="#5a9fd6" stroke="#2a3f55" stroke-width="0.45"/>
<circle cx="208.25" cy="89.80" r="1.58" fill="#5a9fd6" stroke="#2a3f55" stroke-width="0.45"/>
<circle cx="232.25" cy="76.60" r="1.58" fill="#3f7aa6" stroke="#2a3f55" stroke-width="0.45"/>
<circle cx="232.25" cy="79.90" r="1.58" fill="#e35a3a" stroke="#2a3f55" stroke-width="0.45"/>
<circle cx="232.25" cy="83.20" r="1.58" fill="#cc66c0" stroke="#2a3f55" stroke-width="0.45"/>
<circle cx="232.25" cy="86.50" r="1.58" fill="#5a9fd6" stroke="#2a3f55" stroke-width="0.45"/>
<circle cx="232.25" cy="89.80" r="1.58" fill="#5a9fd6" stroke="#2a3f55" stroke-width="0.45"/>
<text x="276.9" y="57.8" font-size="11.60" text-anchor="start" fill="#231f20" >PG transpeptidases</text>
<text x="268.5" y="70.2" font-size="11.60" text-anchor="start" fill="#231f20" >PG carboxypeptidases</text>
<line x1="259.00" y1="76.40" x2="400.00" y2="76.40" stroke="#000" stroke-width="1.80"/>
<polygon points="405.00,76.40 398.60,79.40 399.90,76.40 398.60,73.40" fill="#000"/>
<path d="M277.2 115.6 C277 95 290 80 306 77.5" stroke="#000" stroke-width="1.80" fill="none" />
<polygon points="311.60,76.60 305.68,80.46 306.55,77.31 304.84,74.52" fill="#000"/>
<text x="436.0" y="58.2" font-size="11.60" text-anchor="start" fill="#231f20" >PG</text>
<polygon points="424.60,70.00 427.65,63.85 434.45,63.85 437.50,70.00 434.45,76.15 427.65,76.15" fill="#45a58e" stroke="#2e5a4c" stroke-width="0.55"/>
<polygon points="436.60,70.00 439.65,63.85 446.45,63.85 449.50,70.00 446.45,76.15 439.65,76.15" fill="#d3952f" stroke="#6a4a18" stroke-width="0.55"/>
<polygon points="448.60,70.00 451.65,63.85 458.45,63.85 461.50,70.00 458.45,76.15 451.65,76.15" fill="#45a58e" stroke="#2e5a4c" stroke-width="0.55"/>
<polygon points="460.60,70.00 463.65,63.85 470.45,63.85 473.50,70.00 470.45,76.15 463.65,76.15" fill="#d3952f" stroke="#6a4a18" stroke-width="0.55"/>
<circle cx="427.05" cy="76.10" r="1.58" fill="#3f7aa6" stroke="#2a3f55" stroke-width="0.45"/>
<circle cx="427.05" cy="79.40" r="1.58" fill="#e35a3a" stroke="#2a3f55" stroke-width="0.45"/>
<circle cx="427.05" cy="82.70" r="1.58" fill="#cc66c0" stroke="#2a3f55" stroke-width="0.45"/>
<circle cx="427.05" cy="86.00" r="1.58" fill="#5a9fd6" stroke="#2a3f55" stroke-width="0.45"/>
<circle cx="427.05" cy="89.30" r="1.58" fill="#5a9fd6" stroke="#2a3f55" stroke-width="0.45"/>
<circle cx="451.05" cy="76.10" r="1.58" fill="#3f7aa6" stroke="#2a3f55" stroke-width="0.45"/>
<circle cx="451.05" cy="79.40" r="1.58" fill="#e35a3a" stroke="#2a3f55" stroke-width="0.45"/>
<circle cx="451.05" cy="82.70" r="1.58" fill="#cc66c0" stroke="#2a3f55" stroke-width="0.45"/>
<circle cx="451.05" cy="86.00" r="1.58" fill="#5a9fd6" stroke="#2a3f55" stroke-width="0.45"/>
<circle cx="451.05" cy="89.30" r="1.58" fill="#5a9fd6" stroke="#2a3f55" stroke-width="0.45"/>
<polygon points="430.00,106.70 433.05,100.55 439.85,100.55 442.90,106.70 439.85,112.85 433.05,112.85" fill="#d3952f" stroke="#6a4a18" stroke-width="0.55"/>
<polygon points="442.00,106.70 445.05,100.55 451.85,100.55 454.90,106.70 451.85,112.85 445.05,112.85" fill="#45a58e" stroke="#2e5a4c" stroke-width="0.55"/>
<polygon points="454.00,106.70 457.05,100.55 463.85,100.55 466.90,106.70 463.85,112.85 457.05,112.85" fill="#d3952f" stroke="#6a4a18" stroke-width="0.55"/>
<polygon points="466.00,106.70 469.05,100.55 475.85,100.55 478.90,106.70 475.85,112.85 469.05,112.85" fill="#45a58e" stroke="#2e5a4c" stroke-width="0.55"/>
<circle cx="452.45" cy="101.00" r="1.58" fill="#3f7aa6" stroke="#2a3f55" stroke-width="0.45"/>
<circle cx="452.45" cy="97.70" r="1.58" fill="#e35a3a" stroke="#2a3f55" stroke-width="0.45"/>
<circle cx="452.45" cy="94.40" r="1.58" fill="#cc66c0" stroke="#2a3f55" stroke-width="0.45"/>
<circle cx="452.45" cy="91.10" r="1.58" fill="#5a9fd6" stroke="#2a3f55" stroke-width="0.45"/>
<circle cx="452.45" cy="87.80" r="1.58" fill="#5a9fd6" stroke="#2a3f55" stroke-width="0.45"/>
<circle cx="476.45" cy="101.00" r="1.58" fill="#3f7aa6" stroke="#2a3f55" stroke-width="0.45"/>
<circle cx="476.45" cy="97.70" r="1.58" fill="#e35a3a" stroke="#2a3f55" stroke-width="0.45"/>
<circle cx="476.45" cy="94.40" r="1.58" fill="#cc66c0" stroke="#2a3f55" stroke-width="0.45"/>
<circle cx="476.45" cy="91.10" r="1.58" fill="#5a9fd6" stroke="#2a3f55" stroke-width="0.45"/>
<circle cx="476.45" cy="87.80" r="1.58" fill="#5a9fd6" stroke="#2a3f55" stroke-width="0.45"/>
<circle cx="410.75" cy="70.20" r="0.95" fill="#222"/><circle cx="414.05" cy="70.20" r="0.95" fill="#222"/><circle cx="417.35" cy="70.20" r="0.95" fill="#222"/>
<circle cx="478.85" cy="70.40" r="0.95" fill="#222"/><circle cx="482.15" cy="70.40" r="0.95" fill="#222"/><circle cx="485.45" cy="70.40" r="0.95" fill="#222"/>
<circle cx="415.25" cy="109.00" r="0.95" fill="#222"/><circle cx="418.55" cy="109.00" r="0.95" fill="#222"/><circle cx="421.85" cy="109.00" r="0.95" fill="#222"/>
<circle cx="483.65" cy="109.00" r="0.95" fill="#222"/><circle cx="486.95" cy="109.00" r="0.95" fill="#222"/><circle cx="490.25" cy="109.00" r="0.95" fill="#222"/>
<text x="500.0" y="65.5" font-size="11.60" text-anchor="start" fill="#231f20" textLength="104.5" lengthAdjust="spacingAndGlyphs" >PG endopeptidases</text>
<line x1="497.00" y1="76.40" x2="541.70" y2="76.40" stroke="#000" stroke-width="1.80"/>
<polygon points="546.70,76.40 540.30,79.40 541.60,76.40 540.30,73.40" fill="#000"/>
<polygon points="556.70,89.40 559.75,83.25 566.55,83.25 569.60,89.40 566.55,95.55 559.75,95.55" fill="#45a58e" stroke="#2e5a4c" stroke-width="0.55"/>
<polygon points="568.70,89.40 571.75,83.25 578.55,83.25 581.60,89.40 578.55,95.55 571.75,95.55" fill="#d3952f" stroke="#6a4a18" stroke-width="0.55"/>
<polygon points="580.70,89.40 583.75,83.25 590.55,83.25 593.60,89.40 590.55,95.55 583.75,95.55" fill="#45a58e" stroke="#2e5a4c" stroke-width="0.55"/>
<polygon points="592.70,89.40 595.75,83.25 602.55,83.25 605.60,89.40 602.55,95.55 595.75,95.55" fill="#d3952f" stroke="#6a4a18" stroke-width="0.55"/>
<circle cx="559.15" cy="95.60" r="1.58" fill="#3f7aa6" stroke="#2a3f55" stroke-width="0.45"/>
<circle cx="559.15" cy="98.90" r="1.58" fill="#e35a3a" stroke="#2a3f55" stroke-width="0.45"/>
<circle cx="559.15" cy="102.20" r="1.58" fill="#cc66c0" stroke="#2a3f55" stroke-width="0.45"/>
<circle cx="559.15" cy="105.50" r="1.58" fill="#5a9fd6" stroke="#2a3f55" stroke-width="0.45"/>
<circle cx="559.15" cy="108.80" r="1.58" fill="#5a9fd6" stroke="#2a3f55" stroke-width="0.45"/>
<circle cx="583.15" cy="95.60" r="1.58" fill="#3f7aa6" stroke="#2a3f55" stroke-width="0.45"/>
<circle cx="583.15" cy="98.90" r="1.58" fill="#e35a3a" stroke="#2a3f55" stroke-width="0.45"/>
<circle cx="583.15" cy="102.20" r="1.58" fill="#cc66c0" stroke="#2a3f55" stroke-width="0.45"/>
<circle cx="583.15" cy="105.50" r="1.58" fill="#5a9fd6" stroke="#2a3f55" stroke-width="0.45"/>
<circle cx="583.15" cy="108.80" r="1.58" fill="#5a9fd6" stroke="#2a3f55" stroke-width="0.45"/>
<circle cx="541.95" cy="89.60" r="0.95" fill="#222"/><circle cx="545.25" cy="89.60" r="0.95" fill="#222"/><circle cx="548.55" cy="89.60" r="0.95" fill="#222"/>
<circle cx="610.95" cy="89.60" r="0.95" fill="#222"/><circle cx="614.25" cy="89.60" r="0.95" fill="#222"/><circle cx="617.55" cy="89.60" r="0.95" fill="#222"/>
<text x="624.0" y="76.7" font-size="11.80" text-anchor="start" fill="#231f20" textLength="122.5" lengthAdjust="spacingAndGlyphs" >Lytic transglycosylases</text>
<line x1="621.00" y1="95.70" x2="666.70" y2="95.70" stroke="#000" stroke-width="1.80"/>
<polygon points="671.70,95.70 665.30,98.70 666.60,95.70 665.30,92.70" fill="#000"/>
<polygon points="680.70,89.30 683.75,83.15 690.55,83.15 693.60,89.30 690.55,95.45 683.75,95.45" fill="#45a58e" stroke="#2e5a4c" stroke-width="0.55"/>
<polygon points="692.70,89.30 695.75,83.15 702.55,83.15 705.60,89.30 702.55,95.45 695.75,95.45" fill="#d3952f" stroke="#6a4a18" stroke-width="0.55"/>
<circle cx="683.15" cy="95.50" r="1.58" fill="#3f7aa6" stroke="#2a3f55" stroke-width="0.45"/>
<circle cx="683.15" cy="98.80" r="1.58" fill="#e35a3a" stroke="#2a3f55" stroke-width="0.45"/>
<circle cx="683.15" cy="102.10" r="1.58" fill="#cc66c0" stroke="#2a3f55" stroke-width="0.45"/>
<circle cx="683.15" cy="105.40" r="1.58" fill="#5a9fd6" stroke="#2a3f55" stroke-width="0.45"/>
<circle cx="683.15" cy="108.70" r="1.58" fill="#5a9fd6" stroke="#2a3f55" stroke-width="0.45"/>
<text x="731.7" y="140.0" font-size="11.60" text-anchor="start" fill="#231f20" >Periplasm</text>
<path d="M676.4 115 C655 140 652 195 672 215" stroke="#000" stroke-width="1.80" fill="none" />
<polygon points="675.70,218.50 669.57,214.98 672.77,214.32 674.49,211.54" fill="#000"/>
<text x="295.6" y="121.4" font-size="11.60" text-anchor="start" fill="#231f20" >PG transglycosylases</text>
<line x1="358.00" y1="135.30" x2="329.00" y2="135.30" stroke="#000" stroke-width="1.80"/>
<polygon points="324.00,135.30 330.40,132.30 329.10,135.30 330.40,138.30" fill="#000"/>
<polygon points="206.40,146.30 209.45,140.15 216.25,140.15 219.30,146.30 216.25,152.45 209.45,152.45" fill="#d3952f" stroke="#6a4a18" stroke-width="0.55"/>
<polygon points="218.40,146.30 221.45,140.15 228.25,140.15 231.30,146.30 228.25,152.45 221.45,152.45" fill="#45a58e" stroke="#2e5a4c" stroke-width="0.55"/>
<polygon points="230.40,146.30 233.45,140.15 240.25,140.15 243.30,146.30 240.25,152.45 233.45,152.45" fill="#d3952f" stroke="#6a4a18" stroke-width="0.55"/>
<polygon points="242.40,146.30 245.45,140.15 252.25,140.15 255.30,146.30 252.25,152.45 245.45,152.45" fill="#45a58e" stroke="#2e5a4c" stroke-width="0.55"/>
<polygon points="254.40,146.30 257.45,140.15 264.25,140.15 267.30,146.30 264.25,152.45 257.45,152.45" fill="#d3952f" stroke="#6a4a18" stroke-width="0.55"/>
<polygon points="266.40,146.30 269.45,140.15 276.25,140.15 279.30,146.30 276.25,152.45 269.45,152.45" fill="#45a58e" stroke="#2e5a4c" stroke-width="0.55"/>
<polygon points="278.40,146.30 281.45,140.15 288.25,140.15 291.30,146.30 288.25,152.45 281.45,152.45" fill="#d3952f" stroke="#6a4a18" stroke-width="0.55"/>
<polygon points="290.40,146.30 293.45,140.15 300.25,140.15 303.30,146.30 300.25,152.45 293.45,152.45" fill="#45a58e" stroke="#2e5a4c" stroke-width="0.55"/>
<circle cx="229.15" cy="140.30" r="1.58" fill="#3f7aa6" stroke="#2a3f55" stroke-width="0.45"/>
<circle cx="229.15" cy="137.00" r="1.58" fill="#e35a3a" stroke="#2a3f55" stroke-width="0.45"/>
<circle cx="229.15" cy="133.70" r="1.58" fill="#cc66c0" stroke="#2a3f55" stroke-width="0.45"/>
<circle cx="229.15" cy="130.40" r="1.58" fill="#5a9fd6" stroke="#2a3f55" stroke-width="0.45"/>
<circle cx="229.15" cy="127.10" r="1.58" fill="#5a9fd6" stroke="#2a3f55" stroke-width="0.45"/>
<circle cx="253.15" cy="140.30" r="1.58" fill="#3f7aa6" stroke="#2a3f55" stroke-width="0.45"/>
<circle cx="253.15" cy="137.00" r="1.58" fill="#e35a3a" stroke="#2a3f55" stroke-width="0.45"/>
<circle cx="253.15" cy="133.70" r="1.58" fill="#cc66c0" stroke="#2a3f55" stroke-width="0.45"/>
<circle cx="253.15" cy="130.40" r="1.58" fill="#5a9fd6" stroke="#2a3f55" stroke-width="0.45"/>
<circle cx="253.15" cy="127.10" r="1.58" fill="#5a9fd6" stroke="#2a3f55" stroke-width="0.45"/>
<circle cx="277.15" cy="140.30" r="1.58" fill="#3f7aa6" stroke="#2a3f55" stroke-width="0.45"/>
<circle cx="277.15" cy="137.00" r="1.58" fill="#e35a3a" stroke="#2a3f55" stroke-width="0.45"/>
<circle cx="277.15" cy="133.70" r="1.58" fill="#cc66c0" stroke="#2a3f55" stroke-width="0.45"/>
<circle cx="277.15" cy="130.40" r="1.58" fill="#5a9fd6" stroke="#2a3f55" stroke-width="0.45"/>
<circle cx="277.15" cy="127.10" r="1.58" fill="#5a9fd6" stroke="#2a3f55" stroke-width="0.45"/>
<circle cx="301.15" cy="140.30" r="1.58" fill="#3f7aa6" stroke="#2a3f55" stroke-width="0.45"/>
<circle cx="301.15" cy="137.00" r="1.58" fill="#e35a3a" stroke="#2a3f55" stroke-width="0.45"/>
<circle cx="301.15" cy="133.70" r="1.58" fill="#cc66c0" stroke="#2a3f55" stroke-width="0.45"/>
<circle cx="301.15" cy="130.40" r="1.58" fill="#5a9fd6" stroke="#2a3f55" stroke-width="0.45"/>
<circle cx="301.15" cy="127.10" r="1.58" fill="#5a9fd6" stroke="#2a3f55" stroke-width="0.45"/>
<text x="303.3" y="149.2" font-size="8.60" text-anchor="start" fill="#3a3a3a" textLength="9.6" lengthAdjust="spacingAndGlyphs" >dd</text>
<path d="M309.10 150.00 L312.70 153.33 L309.10 156.67 L312.70 160.00 L309.10 163.33 L312.70 166.67 L309.10 170.00 L312.70 173.33 L309.10 176.67 L312.70 180.00" stroke="#000" stroke-width="0.95" fill="none" stroke-linejoin="miter"/>
<polygon points="367.70,146.10 370.75,139.95 377.55,139.95 380.60,146.10 377.55,152.25 370.75,152.25" fill="#d3952f" stroke="#6a4a18" stroke-width="0.55"/>
<polygon points="379.70,146.10 382.75,139.95 389.55,139.95 392.60,146.10 389.55,152.25 382.75,152.25" fill="#45a58e" stroke="#2e5a4c" stroke-width="0.55"/>
<circle cx="390.45" cy="140.30" r="1.58" fill="#3f7aa6" stroke="#2a3f55" stroke-width="0.45"/>
<circle cx="390.45" cy="137.00" r="1.58" fill="#e35a3a" stroke="#2a3f55" stroke-width="0.45"/>
<circle cx="390.45" cy="133.70" r="1.58" fill="#cc66c0" stroke="#2a3f55" stroke-width="0.45"/>
<circle cx="390.45" cy="130.40" r="1.58" fill="#5a9fd6" stroke="#2a3f55" stroke-width="0.45"/>
<circle cx="390.45" cy="127.10" r="1.58" fill="#5a9fd6" stroke="#2a3f55" stroke-width="0.45"/>
<text x="393.2" y="149.2" font-size="8.60" text-anchor="start" fill="#3a3a3a" textLength="9.6" lengthAdjust="spacingAndGlyphs" >dd</text>
<path d="M399.20 150.00 L402.80 153.36 L399.20 156.71 L402.80 160.07 L399.20 163.42 L402.80 166.78 L399.20 170.13 L402.80 173.49 L399.20 176.84 L402.80 180.20" stroke="#000" stroke-width="0.95" fill="none" stroke-linejoin="miter"/>
<rect x="207.90" y="159.90" width="9.83" height="41.80" rx="3.9" fill="#d46eae" stroke="#1d1d24" stroke-width="1.4"/>
<rect x="218.83" y="159.90" width="9.83" height="41.80" rx="3.9" fill="#d46eae" stroke="#1d1d24" stroke-width="1.4"/>
<rect x="229.77" y="159.90" width="9.83" height="41.80" rx="3.9" fill="#d46eae" stroke="#1d1d24" stroke-width="1.4"/>
<rect x="418.20" y="159.40" width="9.50" height="41.60" rx="3.9" fill="#d46eae" stroke="#1d1d24" stroke-width="1.4"/>
<rect x="428.80" y="159.40" width="9.50" height="41.60" rx="3.9" fill="#d46eae" stroke="#1d1d24" stroke-width="1.4"/>
<rect x="439.40" y="159.40" width="9.50" height="41.60" rx="3.9" fill="#d46eae" stroke="#1d1d24" stroke-width="1.4"/>
<rect x="647.70" y="156.20" width="10.23" height="42.10" rx="3.9" fill="#d46eae" stroke="#1d1d24" stroke-width="1.4"/>
<rect x="659.03" y="156.20" width="10.23" height="42.10" rx="3.9" fill="#d46eae" stroke="#1d1d24" stroke-width="1.4"/>
<rect x="670.37" y="156.20" width="10.23" height="42.10" rx="3.9" fill="#d46eae" stroke="#1d1d24" stroke-width="1.4"/>
<path d="M676.4 115 C655 140 652 195 672 215" stroke="#000" stroke-width="1.80" fill="none" />
<polygon points="675.70,218.50 669.57,214.98 672.77,214.32 674.49,211.54" fill="#000"/>
<path d="M424.7 208.4 C440 195 440 165 426 155" stroke="#000" stroke-width="1.60" fill="none" />
<polygon points="423.50,151.50 429.30,155.54 426.05,155.92 424.10,158.54" fill="#000"/>
<rect x="148.00" y="167.50" width="54.00" height="22.50" rx="11.25" fill="#a4dab9" stroke="none" stroke-width="0.00"/>
<text x="174.9" y="181.9" font-size="11.80" text-anchor="middle" fill="#231f20" textLength="27.4" lengthAdjust="spacingAndGlyphs" >MraY</text>
<line x1="161.4" y1="183.5" x2="188.4" y2="183.5" stroke="#1a1a1a" stroke-width="1.0"/>
<rect x="450.80" y="168.00" width="53.40" height="21.60" rx="10.80" fill="#a4dab9" stroke="none" stroke-width="0.00"/>
<text x="477.4" y="181.9" font-size="11.80" text-anchor="middle" fill="#231f20" textLength="26.0" lengthAdjust="spacingAndGlyphs" >MurJ</text>
<line x1="464.6" y1="183.5" x2="490.2" y2="183.5" stroke="#1a1a1a" stroke-width="1.0"/>
<rect x="87.80" y="206.70" width="58.90" height="22.70" rx="11.35" fill="#f5a833" stroke="none" stroke-width="0.00"/>
<text x="95.6" y="222.9" font-size="11.80" text-anchor="start" fill="#231f20" >Sgl</text>
<text x="113.5" y="218.3" font-size="8.60" text-anchor="start" fill="#231f20" textLength="22.3" lengthAdjust="spacingAndGlyphs" >ΦX174</text>
<path d="M134 206 L149 191" stroke="#000" stroke-width="1.80" fill="none" />
<path d="M143 188 L156 200" stroke="#000" stroke-width="2.60" fill="none" />
<text x="485.5" y="147.5" font-size="16.00" text-anchor="middle" fill="#231f20" font-weight="bold">?</text>
<path d="M497 131 V149" stroke="#000" stroke-width="2.60" fill="none" />
<path d="M497 140.2 H529.8" stroke="#000" stroke-width="1.80" fill="none" />
<rect x="532.60" y="127.00" width="51.60" height="26.40" rx="10.00" fill="#f5a833" stroke="none" stroke-width="0.00"/>
<text x="540.4" y="146.9" font-size="11.80" text-anchor="start" fill="#231f20" >Sgl</text>
<text x="558.5" y="142.3" font-size="8.60" text-anchor="start" fill="#231f20" textLength="15.6" lengthAdjust="spacingAndGlyphs" >MS2</text>
<rect x="536.90" y="200.20" width="38.60" height="26.00" rx="10.00" fill="#f5a833" stroke="none" stroke-width="0.00"/>
<text x="544.0" y="218.5" font-size="11.80" text-anchor="start" fill="#231f20" >Sgl</text>
<text x="561.9" y="213.7" font-size="8.60" text-anchor="start" fill="#231f20" textLength="6.0" lengthAdjust="spacingAndGlyphs" >M</text>
<path d="M534 205 L507.8 188" stroke="#000" stroke-width="1.80" fill="none" />
<path d="M500.6 194.7 L511.3 180.4" stroke="#000" stroke-width="2.60" fill="none" />
<path d="M245.00 167.20 L248.60 170.40 L245.00 173.60 L248.60 176.80 L245.00 180.00 L248.60 183.20 L245.00 186.40 L248.60 189.60 L245.00 192.80 L248.60 196.00" stroke="#000" stroke-width="0.95" fill="none" stroke-linejoin="miter"/>
<text x="244.5" y="203.3" font-size="8.60" text-anchor="start" fill="#333" textLength="9.6" lengthAdjust="spacingAndGlyphs" >PP</text>
<polygon points="253.75,200.50 256.80,194.35 263.60,194.35 266.65,200.50 263.60,206.65 256.80,206.65" fill="#45a58e" stroke="#2e5a4c" stroke-width="0.55"/>
<circle cx="256.00" cy="207.00" r="1.58" fill="#3f7aa6" stroke="#2a3f55" stroke-width="0.45"/>
<circle cx="256.00" cy="210.30" r="1.58" fill="#e35a3a" stroke="#2a3f55" stroke-width="0.45"/>
<circle cx="256.00" cy="213.60" r="1.58" fill="#cc66c0" stroke="#2a3f55" stroke-width="0.45"/>
<circle cx="256.00" cy="216.90" r="1.58" fill="#5a9fd6" stroke="#2a3f55" stroke-width="0.45"/>
<circle cx="256.00" cy="220.20" r="1.58" fill="#5a9fd6" stroke="#2a3f55" stroke-width="0.45"/>
<text x="212.8" y="236.4" font-size="11.60" text-anchor="start" fill="#5a78b8" >Lipid I</text>
<text x="289.0" y="225.0" font-size="11.60" text-anchor="start" fill="#231f20" >MurG</text>
<path d="M263 222 C285 200 335 198 358 218" stroke="#000" stroke-width="1.80" fill="none" />
<polygon points="362.00,222.50 355.35,220.10 358.39,218.89 359.60,215.85" fill="#000"/>
<path d="M364.70 167.10 L368.30 170.38 L364.70 173.66 L368.30 176.93 L364.70 180.21 L368.30 183.49 L364.70 186.77 L368.30 190.04 L364.70 193.32 L368.30 196.60" stroke="#000" stroke-width="0.95" fill="none" stroke-linejoin="miter"/>
<text x="363.8" y="203.3" font-size="8.60" text-anchor="start" fill="#333" textLength="9.6" lengthAdjust="spacingAndGlyphs" >PP</text>
<polygon points="374.05,200.50 377.10,194.35 383.90,194.35 386.95,200.50 383.90,206.65 377.10,206.65" fill="#45a58e" stroke="#2e5a4c" stroke-width="0.55"/>
<polygon points="386.65,200.50 389.70,194.35 396.50,194.35 399.55,200.50 396.50,206.65 389.70,206.65" fill="#d3952f" stroke="#6a4a18" stroke-width="0.55"/>
<circle cx="376.40" cy="206.60" r="1.58" fill="#3f7aa6" stroke="#2a3f55" stroke-width="0.45"/>
<circle cx="376.40" cy="209.90" r="1.58" fill="#e35a3a" stroke="#2a3f55" stroke-width="0.45"/>
<circle cx="376.40" cy="213.20" r="1.58" fill="#cc66c0" stroke="#2a3f55" stroke-width="0.45"/>
<circle cx="376.40" cy="216.50" r="1.58" fill="#5a9fd6" stroke="#2a3f55" stroke-width="0.45"/>
<circle cx="376.40" cy="219.80" r="1.58" fill="#5a9fd6" stroke="#2a3f55" stroke-width="0.45"/>
<text x="368.0" y="240.0" font-size="11.60" text-anchor="start" fill="#5a78b8" >Lipid II</text>
<text x="598.0" y="212.5" font-size="11.60" text-anchor="start" fill="#231f20" >AmpG</text>
<text x="731.0" y="231.0" font-size="11.60" text-anchor="start" fill="#231f20" >Cytoplasm</text>
<polygon points="681.00,228.20 684.05,222.05 690.85,222.05 693.90,228.20 690.85,234.35 684.05,234.35" fill="#45a58e" stroke="#2e5a4c" stroke-width="0.55"/>
<polygon points="693.00,228.20 696.05,222.05 702.85,222.05 705.90,228.20 702.85,234.35 696.05,234.35" fill="#d3952f" stroke="#6a4a18" stroke-width="0.55"/>
<circle cx="683.45" cy="234.40" r="1.58" fill="#3f7aa6" stroke="#2a3f55" stroke-width="0.45"/>
<circle cx="683.45" cy="237.70" r="1.58" fill="#e35a3a" stroke="#2a3f55" stroke-width="0.45"/>
<circle cx="683.45" cy="241.00" r="1.58" fill="#cc66c0" stroke="#2a3f55" stroke-width="0.45"/>
<circle cx="683.45" cy="244.30" r="1.58" fill="#5a9fd6" stroke="#2a3f55" stroke-width="0.45"/>
<circle cx="683.45" cy="247.60" r="1.58" fill="#5a9fd6" stroke="#2a3f55" stroke-width="0.45"/>
<polygon points="639.00,239.60 642.05,233.45 648.85,233.45 651.90,239.60 648.85,245.75 642.05,245.75" fill="#45a58e" stroke="#2e5a4c" stroke-width="0.55"/>
<polygon points="651.00,239.60 654.05,233.45 660.85,233.45 663.90,239.60 660.85,245.75 654.05,245.75" fill="#d3952f" stroke="#6a4a18" stroke-width="0.55"/>
<circle cx="641.45" cy="245.80" r="1.58" fill="#3f7aa6" stroke="#2a3f55" stroke-width="0.45"/>
<circle cx="641.45" cy="249.10" r="1.58" fill="#e35a3a" stroke="#2a3f55" stroke-width="0.45"/>
<circle cx="641.45" cy="252.40" r="1.58" fill="#cc66c0" stroke="#2a3f55" stroke-width="0.45"/>
<circle cx="641.45" cy="255.70" r="1.58" fill="#5a9fd6" stroke="#2a3f55" stroke-width="0.45"/>
<circle cx="641.45" cy="259.00" r="1.58" fill="#5a9fd6" stroke="#2a3f55" stroke-width="0.45"/>
<polygon points="702.40,258.50 705.45,252.35 712.25,252.35 715.30,258.50 712.25,264.65 705.45,264.65" fill="#45a58e" stroke="#2e5a4c" stroke-width="0.55"/>
<polygon points="714.40,258.50 717.45,252.35 724.25,252.35 727.30,258.50 724.25,264.65 717.45,264.65" fill="#d3952f" stroke="#6a4a18" stroke-width="0.55"/>
<circle cx="704.85" cy="264.70" r="1.58" fill="#3f7aa6" stroke="#2a3f55" stroke-width="0.45"/>
<circle cx="704.85" cy="268.00" r="1.58" fill="#e35a3a" stroke="#2a3f55" stroke-width="0.45"/>
<circle cx="704.85" cy="271.30" r="1.58" fill="#cc66c0" stroke="#2a3f55" stroke-width="0.45"/>
<circle cx="704.85" cy="274.60" r="1.58" fill="#5a9fd6" stroke="#2a3f55" stroke-width="0.45"/>
<circle cx="704.85" cy="277.90" r="1.58" fill="#5a9fd6" stroke="#2a3f55" stroke-width="0.45"/>
<polygon points="657.00,267.40 660.05,261.25 666.85,261.25 669.90,267.40 666.85,273.55 660.05,273.55" fill="#45a58e" stroke="#2e5a4c" stroke-width="0.55"/>
<polygon points="669.00,267.40 672.05,261.25 678.85,261.25 681.90,267.40 678.85,273.55 672.05,273.55" fill="#d3952f" stroke="#6a4a18" stroke-width="0.55"/>
<circle cx="659.45" cy="273.60" r="1.58" fill="#3f7aa6" stroke="#2a3f55" stroke-width="0.45"/>
<circle cx="659.45" cy="276.90" r="1.58" fill="#e35a3a" stroke="#2a3f55" stroke-width="0.45"/>
<circle cx="659.45" cy="280.20" r="1.58" fill="#cc66c0" stroke="#2a3f55" stroke-width="0.45"/>
<circle cx="659.45" cy="283.50" r="1.58" fill="#5a9fd6" stroke="#2a3f55" stroke-width="0.45"/>
<circle cx="659.45" cy="286.80" r="1.58" fill="#5a9fd6" stroke="#2a3f55" stroke-width="0.45"/>
<polygon points="683.60,295.10 686.65,288.95 693.45,288.95 696.50,295.10 693.45,301.25 686.65,301.25" fill="#45a58e" stroke="#2e5a4c" stroke-width="0.55"/>
<polygon points="695.60,295.10 698.65,288.95 705.45,288.95 708.50,295.10 705.45,301.25 698.65,301.25" fill="#d3952f" stroke="#6a4a18" stroke-width="0.55"/>
<circle cx="686.05" cy="301.30" r="1.58" fill="#3f7aa6" stroke="#2a3f55" stroke-width="0.45"/>
<circle cx="686.05" cy="304.60" r="1.58" fill="#e35a3a" stroke="#2a3f55" stroke-width="0.45"/>
<circle cx="686.05" cy="307.90" r="1.58" fill="#cc66c0" stroke="#2a3f55" stroke-width="0.45"/>
<circle cx="686.05" cy="311.20" r="1.58" fill="#5a9fd6" stroke="#2a3f55" stroke-width="0.45"/>
<circle cx="686.05" cy="314.50" r="1.58" fill="#5a9fd6" stroke="#2a3f55" stroke-width="0.45"/>
<line x1="638.40" y1="279.00" x2="558.00" y2="279.00" stroke="#000" stroke-width="1.80"/>
<polygon points="553.00,279.00 559.40,276.00 558.10,279.00 559.40,282.00" fill="#000"/>
<text x="582.3" y="306.4" font-size="11.60" text-anchor="start" fill="#231f20" textLength="28.2" lengthAdjust="spacingAndGlyphs" >NagZ</text>
<line x1="532.70" y1="279.00" x2="451.60" y2="279.00" stroke="#000" stroke-width="1.80"/>
<polygon points="446.60,279.00 453.00,276.00 451.70,279.00 453.00,282.00" fill="#000"/>
<text x="466.0" y="306.4" font-size="11.60" text-anchor="start" fill="#231f20" >AmpD</text>
<circle cx="381.50" cy="264.40" r="1.50" fill="#3a6e96" stroke="#2a3f55" stroke-width="0.45"/>
<circle cx="384.60" cy="264.40" r="1.50" fill="#e35a3a" stroke="#2a3f55" stroke-width="0.45"/>
<circle cx="387.70" cy="264.40" r="1.50" fill="#cc66c0" stroke="#2a3f55" stroke-width="0.45"/>
<circle cx="390.80" cy="264.40" r="1.50" fill="#5a9fd6" stroke="#2a3f55" stroke-width="0.45"/>
<circle cx="393.90" cy="264.40" r="1.50" fill="#5a9fd6" stroke="#2a3f55" stroke-width="0.45"/>
<circle cx="410.50" cy="264.40" r="1.50" fill="#3a6e96" stroke="#2a3f55" stroke-width="0.45"/>
<circle cx="413.60" cy="264.40" r="1.50" fill="#e35a3a" stroke="#2a3f55" stroke-width="0.45"/>
<circle cx="416.70" cy="264.40" r="1.50" fill="#cc66c0" stroke="#2a3f55" stroke-width="0.45"/>
<circle cx="419.80" cy="264.40" r="1.50" fill="#5a9fd6" stroke="#2a3f55" stroke-width="0.45"/>
<circle cx="394.50" cy="275.90" r="1.50" fill="#3a6e96" stroke="#2a3f55" stroke-width="0.45"/>
<circle cx="397.60" cy="275.90" r="1.50" fill="#e35a3a" stroke="#2a3f55" stroke-width="0.45"/>
<circle cx="400.70" cy="275.90" r="1.50" fill="#cc66c0" stroke="#2a3f55" stroke-width="0.45"/>
<circle cx="403.80" cy="275.90" r="1.50" fill="#5a9fd6" stroke="#2a3f55" stroke-width="0.45"/>
<circle cx="406.90" cy="275.90" r="1.50" fill="#5a9fd6" stroke="#2a3f55" stroke-width="0.45"/>
<circle cx="362.90" cy="281.50" r="1.50" fill="#3a6e96" stroke="#2a3f55" stroke-width="0.45"/>
<circle cx="366.00" cy="281.50" r="1.50" fill="#e35a3a" stroke="#2a3f55" stroke-width="0.45"/>
<circle cx="369.10" cy="281.50" r="1.50" fill="#cc66c0" stroke="#2a3f55" stroke-width="0.45"/>
<circle cx="372.20" cy="281.50" r="1.50" fill="#5a9fd6" stroke="#2a3f55" stroke-width="0.45"/>
<circle cx="375.30" cy="281.50" r="1.50" fill="#5a9fd6" stroke="#2a3f55" stroke-width="0.45"/>
<circle cx="415.80" cy="281.50" r="1.50" fill="#3a6e96" stroke="#2a3f55" stroke-width="0.45"/>
<circle cx="418.90" cy="281.50" r="1.50" fill="#e35a3a" stroke="#2a3f55" stroke-width="0.45"/>
<circle cx="422.00" cy="281.50" r="1.50" fill="#cc66c0" stroke="#2a3f55" stroke-width="0.45"/>
<circle cx="425.10" cy="281.50" r="1.50" fill="#5a9fd6" stroke="#2a3f55" stroke-width="0.45"/>
<circle cx="399.90" cy="289.50" r="1.50" fill="#3a6e96" stroke="#2a3f55" stroke-width="0.45"/>
<circle cx="403.00" cy="289.50" r="1.50" fill="#e35a3a" stroke="#2a3f55" stroke-width="0.45"/>
<circle cx="406.10" cy="289.50" r="1.50" fill="#cc66c0" stroke="#2a3f55" stroke-width="0.45"/>
<circle cx="376.20" cy="298.20" r="1.50" fill="#3a6e96" stroke="#2a3f55" stroke-width="0.45"/>
<circle cx="379.30" cy="298.20" r="1.50" fill="#e35a3a" stroke="#2a3f55" stroke-width="0.45"/>
<circle cx="382.40" cy="298.20" r="1.50" fill="#cc66c0" stroke="#2a3f55" stroke-width="0.45"/>
<circle cx="385.50" cy="298.20" r="1.50" fill="#5a9fd6" stroke="#2a3f55" stroke-width="0.45"/>
<circle cx="388.60" cy="298.20" r="1.50" fill="#5a9fd6" stroke="#2a3f55" stroke-width="0.45"/>
<path d="M352.7 278.9 H218 C200 278 188 270 180 258" stroke="#000" stroke-width="1.80" fill="none" />
<polygon points="177.50,255.00 183.91,257.97 180.78,258.91 179.32,261.83" fill="#000"/>
<text x="252.0" y="301.4" font-size="11.60" text-anchor="start" fill="#231f20" >Mpl</text>
<text x="282.0" y="301.4" font-size="11.60" text-anchor="start" fill="#231f20" >, MurF</text>
<text x="139.7" y="253.6" font-size="10.40" text-anchor="start" fill="#231f20" >UDP</text>
<polygon points="163.55,249.60 166.60,243.45 173.40,243.45 176.45,249.60 173.40,255.75 166.60,255.75" fill="#45a58e" stroke="#2e5a4c" stroke-width="0.55"/>
<circle cx="165.00" cy="256.00" r="1.40" fill="#3f7aa6" stroke="#2a3f55" stroke-width="0.45"/>
<circle cx="165.00" cy="259.00" r="1.40" fill="#e35a3a" stroke="#2a3f55" stroke-width="0.45"/>
<circle cx="165.00" cy="262.00" r="1.40" fill="#cc66c0" stroke="#2a3f55" stroke-width="0.45"/>
<circle cx="165.00" cy="265.00" r="1.40" fill="#5a9fd6" stroke="#2a3f55" stroke-width="0.45"/>
<circle cx="165.00" cy="268.00" r="1.40" fill="#5a9fd6" stroke="#2a3f55" stroke-width="0.45"/>
<path d="M182 238 C190 222 205 214 222 212" stroke="#000" stroke-width="1.80" fill="none" />
<polygon points="227.00,212.50 220.60,215.50 221.90,212.50 220.60,209.50" fill="#000"/>
<line x1="165.00" y1="314.30" x2="165.00" y2="284.70" stroke="#000" stroke-width="1.80"/>
<polygon points="165.00,279.70 168.00,286.10 165.00,284.80 162.00,286.10" fill="#000"/>
<line x1="155.00" y1="336.80" x2="155.00" y2="306.20" stroke="#000" stroke-width="1.80"/>
<polygon points="155.00,301.20 158.00,307.60 155.00,306.30 152.00,307.60" fill="#000"/>
<line x1="144.00" y1="358.80" x2="144.00" y2="328.00" stroke="#000" stroke-width="1.80"/>
<polygon points="144.00,323.00 147.00,329.40 144.00,328.10 141.00,329.40" fill="#000"/>
<text x="161.5" y="333.4" font-size="11.60" text-anchor="start" fill="#231f20" >MurB-F</text>
<rect x="154.70" y="345.00" width="53.80" height="22.80" rx="11.40" fill="#a4dab9" stroke="none" stroke-width="0.00"/>
<text x="181.6" y="359.5" font-size="11.80" text-anchor="middle" fill="#231f20" textLength="29.2" lengthAdjust="spacingAndGlyphs" >MurA</text>
<line x1="167.1" y1="361.2" x2="196.0" y2="361.2" stroke="#1a1a1a" stroke-width="1.0"/>
<path d="M221.7 347.3 V362.2" stroke="#000" stroke-width="2.60" fill="none" />
<path d="M221.7 354.3 H258.4" stroke="#000" stroke-width="1.80" fill="none" />
<rect x="261.90" y="344.20" width="39.50" height="22.20" rx="10.00" fill="#f5a833" stroke="none" stroke-width="0.00"/>
<text x="267.2" y="360.8" font-size="11.80" text-anchor="start" fill="#231f20" >Sgl</text>
<text x="285.4" y="356.2" font-size="8.60" text-anchor="start" fill="#231f20" textLength="10.3" lengthAdjust="spacingAndGlyphs" >Qβ</text>
<text x="115.0" y="375.3" font-size="10.40" text-anchor="start" fill="#231f20" >UDP</text>
<polygon points="137.65,371.40 140.70,365.25 147.50,365.25 150.55,371.40 147.50,377.55 140.70,377.55" fill="#45a58e" stroke="#2e5a4c" stroke-width="0.55"/>
<line x1="76" y1="339.4" x2="114.4" y2="339.4" stroke="#f7ecd9" stroke-width="0.9"/>
<text x="-0.6" y="411.8" font-size="15.50" text-anchor="start" fill="#000" font-weight="bold" stroke="#000" stroke-width="0.6">b</text>
<text x="15.0" y="417.0" font-size="11.80" text-anchor="start" fill="#231f20" textLength="83.0" lengthAdjust="spacingAndGlyphs" >Library creation</text>
<rect x="10" y="425.8" width="436.3" height="175.7" rx="19" fill="#f0e0f0" stroke="#000" stroke-width="2"/>
<text x="469.0" y="417.5" font-size="11.60" text-anchor="start" fill="#231f20" textLength="67.8" lengthAdjust="spacingAndGlyphs" >Library assay</text>
<rect x="461.3" y="424.7" width="437" height="177.8" rx="19" fill="#e1e1f1" stroke="#000" stroke-width="2"/>
<text x="97.2" y="457.0" font-size="11.60" text-anchor="middle" fill="#231f20" >Barcoded <tspan font-style="italic">E. coli</tspan></text>
<text x="97.0" y="470.6" font-size="11.60" text-anchor="middle" fill="#231f20" textLength="134.5" lengthAdjust="spacingAndGlyphs" >shotgun (Dub-seq) library</text>
<path d="M174 466.7 H181.3 M188.7 446.7 H181.3 V486 H188.7" stroke="#000" stroke-width="1.80" fill="none" />
<path d="M258.7 466.7 H251.7 M243.7 446.7 H251.7 V486 H243.7" stroke="#000" stroke-width="1.80" fill="none" />
<line x1="194.30" y1="444.60" x2="209.30" y2="446.00" stroke="#e02828" stroke-width="1.50"/>
<path d="M194.30 445.60 C191.30 446.80 190.70 449.03 190.70 453.03 C190.90 459.90 195.63 461.40 201.90 461.40 C208.17 461.40 212.90 459.90 213.10 453.03 C213.10 449.03 212.50 448.20 209.30 447.00" stroke="#000" stroke-width="2.10" fill="none" />
<polygon points="194.30,441.00 195.25,443.29 197.72,443.49 195.84,445.10 196.42,447.51 194.30,446.22 192.18,447.51 192.76,445.10 190.88,443.49 193.35,443.29" fill="#e8e030" stroke="#000" stroke-width="0.90" stroke-linejoin="miter"/>
<polygon points="209.30,442.40 210.25,444.69 212.72,444.89 210.84,446.50 211.42,448.91 209.30,447.62 207.18,448.91 207.76,446.50 205.88,444.89 208.35,444.69" fill="#b048b8" stroke="#000" stroke-width="0.90" stroke-linejoin="miter"/>
<line x1="220.80" y1="447.30" x2="232.70" y2="446.40" stroke="#4858c8" stroke-width="3.00"/>
<path d="M220.80 448.30 C216.10 449.50 215.50 450.89 215.50 454.89 C215.70 462.10 220.54 463.60 226.95 463.60 C233.36 463.60 238.20 462.10 238.40 454.89 C238.40 450.89 237.80 448.60 232.70 447.40" stroke="#000" stroke-width="2.10" fill="none" />
<polygon points="220.80,443.70 221.75,445.99 224.22,446.19 222.34,447.80 222.92,450.21 220.80,448.92 218.68,450.21 219.26,447.80 217.38,446.19 219.85,445.99" fill="#e82028" stroke="#000" stroke-width="0.90" stroke-linejoin="miter"/>
<polygon points="232.70,442.80 233.65,445.09 236.12,445.29 234.24,446.90 234.82,449.31 232.70,448.02 230.58,449.31 231.16,446.90 229.28,445.29 231.75,445.09" fill="#3a98d8" stroke="#000" stroke-width="0.90" stroke-linejoin="miter"/>
<line x1="197.80" y1="469.40" x2="210.20" y2="470.20" stroke="#4858c8" stroke-width="1.50"/>
<path d="M197.80 470.40 C194.00 471.60 193.40 473.62 193.40 477.62 C193.60 484.60 198.15 486.10 204.20 486.10 C210.25 486.10 214.80 484.60 215.00 477.62 C215.00 473.62 214.40 472.40 210.20 471.20" stroke="#000" stroke-width="2.10" fill="none" />
<polygon points="197.80,465.80 198.75,468.09 201.22,468.29 199.34,469.90 199.92,472.31 197.80,471.02 195.68,472.31 196.26,469.90 194.38,468.29 196.85,468.09" fill="#38a838" stroke="#000" stroke-width="0.90" stroke-linejoin="miter"/>
<polygon points="210.20,466.60 211.15,468.89 213.62,469.09 211.74,470.70 212.32,473.11 210.20,471.82 208.08,473.11 208.66,470.70 206.78,469.09 209.25,468.89" fill="#38a040" stroke="#000" stroke-width="0.90" stroke-linejoin="miter"/>
<line x1="223.90" y1="470.20" x2="235.40" y2="469.40" stroke="#b048b8" stroke-width="3.00"/>
<path d="M223.90 471.20 C219.20 472.40 218.60 473.86 218.60 477.86 C218.80 485.10 223.46 486.60 229.65 486.60 C235.84 486.60 240.50 485.10 240.70 477.86 C240.70 473.86 240.10 471.60 235.40 470.40" stroke="#000" stroke-width="2.10" fill="none" />
<polygon points="223.90,466.60 224.85,468.89 227.32,469.09 225.44,470.70 226.02,473.11 223.90,471.82 221.78,473.11 222.36,470.70 220.48,469.09 222.95,468.89" fill="#ece828" stroke="#000" stroke-width="0.90" stroke-linejoin="miter"/>
<polygon points="235.40,465.80 236.35,468.09 238.82,468.29 236.94,469.90 237.52,472.31 235.40,471.02 233.28,472.31 233.86,469.90 231.98,468.29 234.45,468.09" fill="#3a98d8" stroke="#000" stroke-width="0.90" stroke-linejoin="miter"/>
<text x="37.6" y="530.3" font-size="11.60" text-anchor="start" fill="#231f20" >aTc</text>
<text x="76.7" y="521.0" font-size="11.60" text-anchor="start" fill="#231f20" >Sgl</text>
<path d="M74.26 530.59 C68.40 531.19 67.20 535.55 67.20 539.05 C67.50 548.40 75.38 549.40 83.55 549.40 C91.73 549.40 99.60 548.40 99.90 539.05 C99.90 535.55 98.70 531.19 93.50 530.59" stroke="#000" stroke-width="2.10" fill="none" />
<rect x="72.76" y="527.35" width="22.24" height="4.40" rx="2.20" fill="#e8202a" stroke="#000" stroke-width="1.5"/>
<path d="M69.00 532.79 L63.70 528.19 L67.50 523.79" stroke="#000" stroke-width="0.95" fill="none" />
<polygon points="69.60,521.19 69.22,526.14 67.43,524.67 65.32,523.70" fill="#000"/>
<line x1="105.00" y1="538.40" x2="133.60" y2="538.40" stroke="#000" stroke-width="1.80"/>
<polygon points="138.60,538.40 132.20,541.40 133.50,538.40 132.20,535.40" fill="#000"/>
<rect x="142.70" y="514.40" width="89.50" height="41.10" rx="20.55" fill="#eef3d6" stroke="#707070" stroke-width="1.60"/>
<text x="164.3" y="525.5" font-size="11.60" text-anchor="start" fill="#231f20" >Sgl</text>
<path d="M162.81 533.79 C156.90 534.39 155.70 538.62 155.70 542.12 C156.00 551.30 163.95 552.30 172.20 552.30 C180.45 552.30 188.40 551.30 188.70 542.12 C188.70 538.62 187.50 534.39 182.25 533.79" stroke="#000" stroke-width="2.10" fill="none" />
<rect x="161.31" y="530.55" width="22.44" height="4.40" rx="2.20" fill="#e8202a" stroke="#000" stroke-width="1.5"/>
<path d="M157.50 535.99 L152.20 531.39 L156.00 526.99" stroke="#000" stroke-width="0.95" fill="none" />
<polygon points="158.10,524.39 157.72,529.34 155.93,527.87 153.82,526.90" fill="#000"/>
<text x="166.2" y="568.7" font-size="11.60" text-anchor="start" fill="#231f20" font-style="italic">E. coli</text>
<path d="M237.9 498.3 C238 515 248 527.5 268 527.5" stroke="#000" stroke-width="1.70" fill="none" />
<line x1="245.80" y1="527.50" x2="274.20" y2="527.50" stroke="#000" stroke-width="1.70"/>
<polygon points="279.20,527.50 272.80,530.50 274.10,527.50 272.80,524.50" fill="#000"/>
<rect x="262.00" y="478.60" width="70.70" height="30.60" rx="15.30" fill="#e3adc4" stroke="#707070" stroke-width="1.60"/>
<text x="282.0" y="486.6" font-size="11.60" text-anchor="start" fill="#231f20" >Sgl</text>
<path d="M280.22 494.04 C275.60 494.64 274.40 496.55 274.40 500.05 C274.70 506.40 280.75 507.40 287.10 507.40 C293.45 507.40 299.50 506.40 299.80 500.05 C299.80 496.55 298.60 494.64 294.49 494.04" stroke="#000" stroke-width="2.10" fill="none" />
<rect x="278.72" y="491.15" width="17.27" height="3.90" rx="1.95" fill="#e8202a" stroke="#000" stroke-width="1.5"/>
<path d="M276.20 496.24 L271.34 492.04 L274.83 488.03" stroke="#000" stroke-width="0.95" fill="none" />
<polygon points="276.80,485.66 276.45,490.17 274.83,488.81 272.89,487.95" fill="#000"/>
<line x1="305.40" y1="490.00" x2="320.30" y2="490.70" stroke="#20a040" stroke-width="2.50"/>
<path d="M305.40 491.00 C302.60 492.20 302.00 494.34 302.00 498.34 C302.20 505.50 306.84 507.00 313.00 507.00 C319.16 507.00 323.80 505.50 324.00 498.34 C324.00 494.34 323.40 492.90 320.30 491.70" stroke="#000" stroke-width="2.10" fill="none" />
<polygon points="305.40,486.40 306.35,488.69 308.82,488.89 306.94,490.50 307.52,492.91 305.40,491.62 303.28,492.91 303.86,490.50 301.98,488.89 304.45,488.69" fill="#ece828" stroke="#000" stroke-width="0.90" stroke-linejoin="miter"/>
<polygon points="320.30,487.10 321.25,489.39 323.72,489.59 321.84,491.20 322.42,493.61 320.30,492.32 318.18,493.61 318.76,491.20 316.88,489.59 319.35,489.39" fill="#b048b8" stroke="#000" stroke-width="0.90" stroke-linejoin="miter"/>
<rect x="293.70" y="513.10" width="69.90" height="30.60" rx="15.30" fill="#b5dcb0" stroke="#707070" stroke-width="1.60"/>
<text x="310.9" y="520.4" font-size="11.60" text-anchor="start" fill="#231f20" >Sgl</text>
<path d="M308.84 527.54 C304.10 528.14 302.90 530.23 302.90 533.73 C303.20 540.30 309.42 541.30 315.95 541.30 C322.48 541.30 328.70 540.30 329.00 533.73 C329.00 530.23 327.80 528.14 323.58 527.54" stroke="#000" stroke-width="2.10" fill="none" />
<rect x="307.34" y="524.65" width="17.75" height="3.90" rx="1.95" fill="#e8202a" stroke="#000" stroke-width="1.5"/>
<path d="M304.70 529.74 L299.84 525.54 L303.33 521.53" stroke="#000" stroke-width="0.95" fill="none" />
<polygon points="305.30,519.16 304.95,523.67 303.33,522.31 301.39,521.45" fill="#000"/>
<line x1="338.10" y1="523.60" x2="352.30" y2="524.60" stroke="#e02828" stroke-width="1.60"/>
<path d="M338.10 524.60 C334.80 525.80 334.20 527.97 334.20 531.97 C334.40 539.00 339.15 540.50 345.45 540.50 C351.75 540.50 356.50 539.00 356.70 531.97 C356.70 527.97 356.10 526.80 352.30 525.60" stroke="#000" stroke-width="2.10" fill="none" />
<polygon points="338.10,519.10 339.29,521.96 342.38,522.21 340.03,524.23 340.75,527.24 338.10,525.62 335.45,527.24 336.17,524.23 333.82,522.21 336.91,521.96" fill="#000" stroke="#000" stroke-width="0.60" stroke-linejoin="miter"/>
<polygon points="352.30,520.10 353.49,522.96 356.58,523.21 354.23,525.23 354.95,528.24 352.30,526.62 349.65,528.24 350.37,525.23 348.02,523.21 351.11,522.96" fill="#000" stroke="#000" stroke-width="0.60" stroke-linejoin="miter"/>
<circle cx="338.10" cy="523.90" r="1.2" fill="#e8e030"/><circle cx="352.30" cy="524.90" r="1.2" fill="#c050c0"/>
<rect x="260.50" y="548.00" width="70.50" height="30.80" rx="15.40" fill="#9a9cd6" stroke="#707070" stroke-width="1.60"/>
<text x="277.8" y="556.0" font-size="11.60" text-anchor="start" fill="#231f20" >Sgl</text>
<path d="M276.15 563.04 C271.40 563.64 270.20 565.82 270.20 569.32 C270.50 576.00 276.75 577.00 283.30 577.00 C289.85 577.00 296.10 576.00 296.40 569.32 C296.40 565.82 295.20 563.64 290.97 563.04" stroke="#000" stroke-width="2.10" fill="none" />
<rect x="274.65" y="560.15" width="17.82" height="3.90" rx="1.95" fill="#e8202a" stroke="#000" stroke-width="1.5"/>
<path d="M272.00 565.24 L267.14 561.04 L270.63 557.03" stroke="#000" stroke-width="0.95" fill="none" />
<polygon points="272.60,554.66 272.25,559.17 270.63,557.81 268.69,556.95" fill="#000"/>
<line x1="304.00" y1="561.00" x2="316.10" y2="560.20" stroke="#000" stroke-width="1.20"/>
<path d="M304.00 562.00 C299.80 563.20 299.20 564.71 299.20 568.71 C299.40 576.00 304.04 577.50 310.20 577.50 C316.36 577.50 321.00 576.00 321.20 568.71 C321.20 564.71 320.60 562.40 316.10 561.20" stroke="#000" stroke-width="2.10" fill="none" />
<polygon points="304.00,556.50 305.19,559.36 308.28,559.61 305.93,561.63 306.65,564.64 304.00,563.02 301.35,564.64 302.07,561.63 299.72,559.61 302.81,559.36" fill="#000" stroke="#000" stroke-width="0.60" stroke-linejoin="miter"/>
<polygon points="316.10,555.70 317.29,558.56 320.38,558.81 318.03,560.83 318.75,563.84 316.10,562.23 313.45,563.84 314.17,560.83 311.82,558.81 314.91,558.56" fill="#000" stroke="#000" stroke-width="0.60" stroke-linejoin="miter"/>
<circle cx="304.00" cy="561.30" r="1.2" fill="#e02828"/><circle cx="316.10" cy="560.50" r="1.2" fill="#30b8d0"/>
<path d="M338.8 481 L378 520" stroke="#000" stroke-width="1.10" fill="none" stroke-dasharray="3 2.6"/>
<path d="M341.5 564.6 L376.7 533" stroke="#000" stroke-width="1.10" fill="none" stroke-dasharray="3 2.6"/>
<path d="M388.40 499.10 C388.70 505.10 387.40 510.10 385.40 514.10 L378.50 536.00 Q376.50 540.00 381.00 540.00 L410.20 540.00 Q414.70 540.00 412.70 536.00 L406.10 514.10 C404.10 510.10 402.80 505.10 403.10 499.10" stroke="#222" stroke-width="1.30" fill="none" />
<circle cx="387.20" cy="514.20" r="1.75" fill="#3aa83a" stroke="#1a1a1a" stroke-width="0.6"/>
<circle cx="391.40" cy="515.30" r="1.75" fill="#ece428" stroke="#1a1a1a" stroke-width="0.6"/>
<circle cx="396.80" cy="515.30" r="1.75" fill="#ece428" stroke="#1a1a1a" stroke-width="0.6"/>
<circle cx="402.10" cy="515.00" r="1.75" fill="#3aa83a" stroke="#1a1a1a" stroke-width="0.6"/>
<circle cx="388.00" cy="519.40" r="1.75" fill="#ece428" stroke="#1a1a1a" stroke-width="0.6"/>
<circle cx="394.40" cy="519.40" r="1.75" fill="#3aa83a" stroke="#1a1a1a" stroke-width="0.6"/>
<circle cx="400.90" cy="521.20" r="1.75" fill="#e02828" stroke="#1a1a1a" stroke-width="0.6"/>
<circle cx="405.60" cy="520.40" r="1.75" fill="#a8a8a8" stroke="#1a1a1a" stroke-width="0.6"/>
<circle cx="384.70" cy="524.60" r="1.75" fill="#3aa83a" stroke="#1a1a1a" stroke-width="0.6"/>
<circle cx="391.10" cy="524.60" r="1.75" fill="#f4f0e0" stroke="#1a1a1a" stroke-width="0.6"/>
<circle cx="397.70" cy="524.50" r="1.75" fill="#c050b0" stroke="#1a1a1a" stroke-width="0.6"/>
<circle cx="405.00" cy="525.70" r="1.75" fill="#ece428" stroke="#1a1a1a" stroke-width="0.6"/>
<circle cx="388.00" cy="528.10" r="1.75" fill="#ece428" stroke="#1a1a1a" stroke-width="0.6"/>
<circle cx="394.40" cy="528.10" r="1.75" fill="#2a6a2a" stroke="#1a1a1a" stroke-width="0.6"/>
<circle cx="400.90" cy="528.10" r="1.75" fill="#3aa83a" stroke="#1a1a1a" stroke-width="0.6"/>
<circle cx="409.40" cy="529.40" r="1.75" fill="#3aa83a" stroke="#1a1a1a" stroke-width="0.6"/>
<circle cx="381.50" cy="531.20" r="1.75" fill="#ece428" stroke="#1a1a1a" stroke-width="0.6"/>
<circle cx="386.40" cy="533.30" r="1.75" fill="#111" stroke="#1a1a1a" stroke-width="0.6"/>
<circle cx="391.40" cy="532.20" r="1.75" fill="#3aa83a" stroke="#1a1a1a" stroke-width="0.6"/>
<circle cx="396.20" cy="532.80" r="1.75" fill="#a8a8a8" stroke="#1a1a1a" stroke-width="0.6"/>
<circle cx="400.40" cy="533.50" r="1.75" fill="#ece428" stroke="#1a1a1a" stroke-width="0.6"/>
<circle cx="404.50" cy="530.60" r="1.75" fill="#e87820" stroke="#1a1a1a" stroke-width="0.6"/>
<circle cx="382.40" cy="536.70" r="1.75" fill="#3aa83a" stroke="#1a1a1a" stroke-width="0.6"/>
<circle cx="389.50" cy="537.10" r="1.75" fill="#ece428" stroke="#1a1a1a" stroke-width="0.6"/>
<circle cx="393.30" cy="537.60" r="1.75" fill="#f4f0e0" stroke="#1a1a1a" stroke-width="0.6"/>
<circle cx="397.80" cy="537.10" r="1.75" fill="#ece428" stroke="#1a1a1a" stroke-width="0.6"/>
<circle cx="405.60" cy="536.30" r="1.75" fill="#3aa83a" stroke="#1a1a1a" stroke-width="0.6"/>
<circle cx="410.30" cy="534.90" r="1.75" fill="#3aa83a" stroke="#1a1a1a" stroke-width="0.6"/>
<text x="396.3" y="561.0" font-size="11.60" text-anchor="middle" fill="#231f20" >Barcoded</text>
<text x="396.3" y="574.6" font-size="11.60" text-anchor="middle" fill="#231f20" >suppressor</text>
<text x="396.3" y="587.8" font-size="11.60" text-anchor="middle" fill="#231f20" >library</text>
<text x="537.3" y="466.7" font-size="11.60" text-anchor="middle" fill="#231f20" ><tspan font-style="italic">t</tspan> = Start</text>
<text x="537.3" y="479.4" font-size="11.60" text-anchor="middle" fill="#231f20" >sample</text>
<path d="M530.80 491.30 C531.10 497.30 529.80 502.30 527.80 506.30 L519.50 529.30 Q517.50 533.30 522.00 533.30 L554.30 533.30 Q558.80 533.30 556.80 529.30 L548.30 506.30 C546.30 502.30 545.00 497.30 545.30 491.30" stroke="#222" stroke-width="1.30" fill="none" />
<circle cx="529.05" cy="506.81" r="1.75" fill="#3aa83a" stroke="#1a1a1a" stroke-width="0.6"/>
<circle cx="533.60" cy="507.94" r="1.75" fill="#ece428" stroke="#1a1a1a" stroke-width="0.6"/>
<circle cx="539.45" cy="507.94" r="1.75" fill="#ece428" stroke="#1a1a1a" stroke-width="0.6"/>
<circle cx="545.19" cy="507.63" r="1.75" fill="#3aa83a" stroke="#1a1a1a" stroke-width="0.6"/>
<circle cx="529.92" cy="512.15" r="1.75" fill="#ece428" stroke="#1a1a1a" stroke-width="0.6"/>
<circle cx="536.85" cy="512.15" r="1.75" fill="#3aa83a" stroke="#1a1a1a" stroke-width="0.6"/>
<circle cx="543.89" cy="513.99" r="1.75" fill="#e02828" stroke="#1a1a1a" stroke-width="0.6"/>
<circle cx="548.98" cy="513.17" r="1.75" fill="#a8a8a8" stroke="#1a1a1a" stroke-width="0.6"/>
<circle cx="526.34" cy="517.49" r="1.75" fill="#3aa83a" stroke="#1a1a1a" stroke-width="0.6"/>
<circle cx="533.27" cy="517.49" r="1.75" fill="#f4f0e0" stroke="#1a1a1a" stroke-width="0.6"/>
<circle cx="540.42" cy="517.38" r="1.75" fill="#c050b0" stroke="#1a1a1a" stroke-width="0.6"/>
<circle cx="548.33" cy="518.62" r="1.75" fill="#ece428" stroke="#1a1a1a" stroke-width="0.6"/>
<circle cx="529.92" cy="521.08" r="1.75" fill="#ece428" stroke="#1a1a1a" stroke-width="0.6"/>
<circle cx="536.85" cy="521.08" r="1.75" fill="#2a6a2a" stroke="#1a1a1a" stroke-width="0.6"/>
<circle cx="543.89" cy="521.08" r="1.75" fill="#3aa83a" stroke="#1a1a1a" stroke-width="0.6"/>
<circle cx="553.10" cy="522.41" r="1.75" fill="#3aa83a" stroke="#1a1a1a" stroke-width="0.6"/>
<circle cx="522.88" cy="524.26" r="1.75" fill="#ece428" stroke="#1a1a1a" stroke-width="0.6"/>
<circle cx="528.18" cy="526.42" r="1.75" fill="#111" stroke="#1a1a1a" stroke-width="0.6"/>
<circle cx="533.60" cy="525.29" r="1.75" fill="#3aa83a" stroke="#1a1a1a" stroke-width="0.6"/>
<circle cx="538.80" cy="525.91" r="1.75" fill="#a8a8a8" stroke="#1a1a1a" stroke-width="0.6"/>
<circle cx="543.35" cy="526.63" r="1.75" fill="#ece428" stroke="#1a1a1a" stroke-width="0.6"/>
<circle cx="547.79" cy="523.65" r="1.75" fill="#e87820" stroke="#1a1a1a" stroke-width="0.6"/>
<circle cx="523.85" cy="529.91" r="1.75" fill="#3aa83a" stroke="#1a1a1a" stroke-width="0.6"/>
<circle cx="531.54" cy="530.32" r="1.75" fill="#ece428" stroke="#1a1a1a" stroke-width="0.6"/>
<circle cx="535.66" cy="530.84" r="1.75" fill="#f4f0e0" stroke="#1a1a1a" stroke-width="0.6"/>
<circle cx="540.53" cy="530.32" r="1.75" fill="#ece428" stroke="#1a1a1a" stroke-width="0.6"/>
<circle cx="548.98" cy="529.50" r="1.75" fill="#3aa83a" stroke="#1a1a1a" stroke-width="0.6"/>
<circle cx="554.08" cy="528.06" r="1.75" fill="#3aa83a" stroke="#1a1a1a" stroke-width="0.6"/>
<text x="537.5" y="551.1" font-size="11.60" text-anchor="middle" fill="#231f20" >Barcoded</text>
<text x="537.5" y="564.8" font-size="11.60" text-anchor="middle" fill="#231f20" >suppressor</text>
<text x="537.5" y="578.1" font-size="11.60" text-anchor="middle" fill="#231f20" >library</text>
<text x="570.7" y="506.0" font-size="11.60" text-anchor="start" fill="#231f20" >aTc</text>
<line x1="568.70" y1="517.50" x2="590.70" y2="517.50" stroke="#000" stroke-width="1.80"/>
<polygon points="595.70,517.50 589.30,520.50 590.60,517.50 589.30,514.50" fill="#000"/>
<text x="628.7" y="466.7" font-size="11.60" text-anchor="middle" fill="#231f20" ><tspan font-style="italic">t</tspan> = End</text>
<text x="628.7" y="479.4" font-size="11.60" text-anchor="middle" fill="#231f20" >sample</text>
<path d="M618.70 491.30 C619.00 497.30 617.70 502.30 615.70 506.30 L609.80 529.70 Q607.80 533.70 612.30 533.70 L645.20 533.70 Q649.70 533.70 647.70 529.70 L640.50 506.30 C638.50 502.30 637.20 497.30 637.50 491.30" stroke="#222" stroke-width="1.30" fill="none" />
<circle cx="613.00" cy="525.00" r="1.75" fill="#ece428" stroke="#1a1a1a" stroke-width="0.6"/>
<circle cx="619.17" cy="525.33" r="1.75" fill="#3aa83a" stroke="#1a1a1a" stroke-width="0.6"/>
<circle cx="624.17" cy="525.33" r="1.75" fill="#3aa83a" stroke="#1a1a1a" stroke-width="0.6"/>
<circle cx="628.67" cy="523.67" r="1.75" fill="#3aa83a" stroke="#1a1a1a" stroke-width="0.6"/>
<circle cx="633.67" cy="520.83" r="1.75" fill="#3aa83a" stroke="#1a1a1a" stroke-width="0.6"/>
<circle cx="638.33" cy="524.17" r="1.75" fill="#c050b0" stroke="#1a1a1a" stroke-width="0.6"/>
<circle cx="643.33" cy="522.50" r="1.75" fill="#3aa83a" stroke="#1a1a1a" stroke-width="0.6"/>
<circle cx="614.67" cy="530.00" r="1.75" fill="#3aa83a" stroke="#1a1a1a" stroke-width="0.6"/>
<circle cx="622.00" cy="530.00" r="1.75" fill="#3aa83a" stroke="#1a1a1a" stroke-width="0.6"/>
<circle cx="626.33" cy="531.33" r="1.75" fill="#3aa83a" stroke="#1a1a1a" stroke-width="0.6"/>
<circle cx="630.83" cy="531.33" r="1.75" fill="#ece428" stroke="#1a1a1a" stroke-width="0.6"/>
<circle cx="633.33" cy="526.67" r="1.75" fill="#ece428" stroke="#1a1a1a" stroke-width="0.6"/>
<circle cx="639.17" cy="530.00" r="1.75" fill="#3aa83a" stroke="#1a1a1a" stroke-width="0.6"/>
<circle cx="644.17" cy="528.33" r="1.75" fill="#3aa83a" stroke="#1a1a1a" stroke-width="0.6"/>
<text x="628.5" y="553.0" font-size="11.60" text-anchor="middle" fill="#231f20" >Enriched</text>
<text x="628.8" y="565.8" font-size="11.60" text-anchor="middle" fill="#231f20" >suppressors</text>
<text x="652.0" y="507.7" font-size="11.60" text-anchor="start" fill="#231f20" >BarSeq</text>
<line x1="658.30" y1="519.40" x2="688.90" y2="519.40" stroke="#000" stroke-width="1.80"/>
<polygon points="693.90,519.40 687.50,522.40 688.80,519.40 687.50,516.40" fill="#000"/>
<text x="743.5" y="464.7" font-size="11.90" text-anchor="middle" fill="#231f20" textLength="93.0" lengthAdjust="spacingAndGlyphs" >Quantify barcode</text>
<text x="743.2" y="477.5" font-size="11.90" text-anchor="middle" fill="#231f20" textLength="60.5" lengthAdjust="spacingAndGlyphs" >abundance</text>
<rect x="710.25" y="487.47" width="1.9" height="19.75" fill="#e02030"/>
<rect x="714.65" y="488.09" width="1.9" height="19.60" fill="#e02030"/>
<rect x="719.65" y="487.00" width="1.9" height="19.44" fill="#e02030"/>
<rect x="723.95" y="487.00" width="1.9" height="19.75" fill="#e02030"/>
<rect x="728.15" y="487.00" width="1.9" height="19.44" fill="#1a1a1a"/>
<rect x="733.15" y="488.09" width="1.9" height="18.66" fill="#1a1a1a"/>
<rect x="737.15" y="488.09" width="1.9" height="18.66" fill="#1a1a1a"/>
<rect x="741.65" y="487.78" width="1.9" height="18.97" fill="#3a58c8"/>
<rect x="746.05" y="487.78" width="1.9" height="18.97" fill="#3a58c8"/>
<rect x="750.25" y="487.78" width="1.9" height="19.44" fill="#50b840"/>
<rect x="754.55" y="487.78" width="1.9" height="18.97" fill="#50b840"/>
<rect x="759.55" y="489.02" width="1.9" height="19.28" fill="#50b840"/>
<rect x="711.05" y="547.65" width="1.9" height="17.88" fill="#50b840"/>
<rect x="715.25" y="548.12" width="1.9" height="17.73" fill="#50b840"/>
<rect x="720.05" y="548.74" width="1.9" height="18.04" fill="#50b840"/>
<rect x="724.25" y="547.19" width="1.9" height="18.04" fill="#50b840"/>
<rect x="728.15" y="547.19" width="1.9" height="18.04" fill="#50b840"/>
<rect x="732.85" y="548.12" width="1.9" height="18.20" fill="#50b840"/>
<rect x="737.95" y="548.12" width="1.9" height="17.42" fill="#50b840"/>
<rect x="741.85" y="548.12" width="1.9" height="17.11" fill="#50b840"/>
<rect x="746.35" y="549.21" width="1.9" height="17.88" fill="#50b840"/>
<rect x="749.45" y="549.21" width="1.9" height="17.88" fill="#1a1a1a"/>
<rect x="753.55" y="549.21" width="1.9" height="17.57" fill="#1a1a1a"/>
<rect x="757.75" y="548.74" width="1.9" height="18.35" fill="#e0208a"/>
<text x="740.6" y="525.0" font-size="11.60" text-anchor="middle" fill="#231f20" ><tspan font-style="italic">t</tspan> = Start</text>
<text x="737.8" y="585.1" font-size="11.60" text-anchor="middle" fill="#231f20" ><tspan font-style="italic">t</tspan> = End</text>
<line x1="772.30" y1="521.70" x2="801.70" y2="521.70" stroke="#000" stroke-width="1.80"/>
<polygon points="806.70,521.70 800.30,524.70 801.60,521.70 800.30,518.70" fill="#000"/>
<text x="846.0" y="497.2" font-size="11.60" text-anchor="middle" fill="#231f20" >Fragment</text>
<text x="846.0" y="510.6" font-size="11.60" text-anchor="middle" fill="#231f20" >&amp;</text>
<text x="846.0" y="524.0" font-size="11.60" text-anchor="middle" fill="#231f20" >suppressor</text>
<text x="846.0" y="537.4" font-size="11.60" text-anchor="middle" fill="#231f20" >gene fitness</text>
<text x="846.0" y="550.8" font-size="11.60" text-anchor="middle" fill="#231f20" >scores</text>
</svg>
</body></html>
